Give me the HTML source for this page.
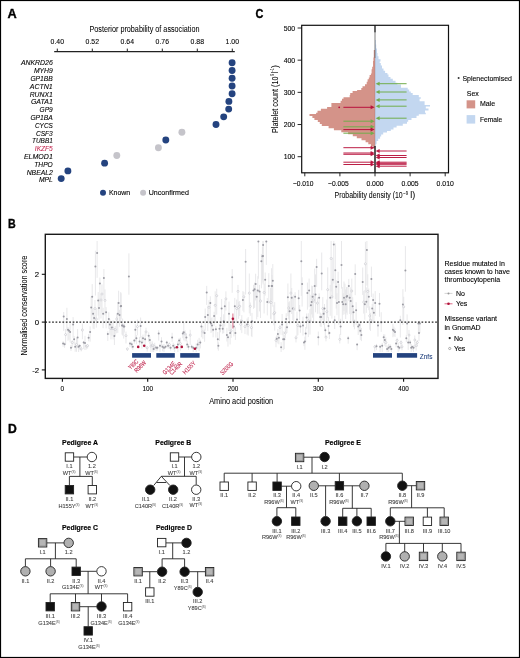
<!DOCTYPE html>
<html><head><meta charset="utf-8"><style>
html,body{margin:0;padding:0;background:#fff;}
body{width:520px;height:658px;overflow:hidden;}
svg{display:block;font-family:"Liberation Sans", sans-serif;will-change:transform;}
</style></head><body>
<svg width="520" height="658" viewBox="0 0 520 658">
<rect x="0" y="0" width="520" height="658" fill="#fff"/>
<text x="7.60" y="18.10" font-size="12.4" font-weight="bold" fill="#000" textLength="9.2" lengthAdjust="spacingAndGlyphs" stroke="#000" stroke-width="0.35">A</text>
<text x="255.40" y="18.20" font-size="12.4" font-weight="bold" fill="#000" textLength="7.9" lengthAdjust="spacingAndGlyphs" stroke="#000" stroke-width="0.35">C</text>
<text x="7.90" y="228.00" font-size="12.4" font-weight="bold" fill="#000" textLength="7.7" lengthAdjust="spacingAndGlyphs" stroke="#000" stroke-width="0.35">B</text>
<text x="7.90" y="433.10" font-size="12.4" font-weight="bold" fill="#000" textLength="8.8" lengthAdjust="spacingAndGlyphs" stroke="#000" stroke-width="0.35">D</text>
<text x="89.50" y="32.30" font-size="8.4" stroke="#000" stroke-width="0.04" textLength="110.0" lengthAdjust="spacingAndGlyphs">Posterior probability of association</text>
<text x="57.30" y="44.00" font-size="8.0" text-anchor="middle" stroke="#000" stroke-width="0.1" textLength="13.4" lengthAdjust="spacingAndGlyphs">0.40</text>
<line x1="57.30" y1="48.60" x2="57.30" y2="51.70" stroke="#222" stroke-width="1.0"/>
<text x="92.30" y="44.00" font-size="8.0" text-anchor="middle" stroke="#000" stroke-width="0.1" textLength="13.4" lengthAdjust="spacingAndGlyphs">0.52</text>
<line x1="92.30" y1="48.60" x2="92.30" y2="51.70" stroke="#222" stroke-width="1.0"/>
<text x="127.30" y="44.00" font-size="8.0" text-anchor="middle" stroke="#000" stroke-width="0.1" textLength="13.4" lengthAdjust="spacingAndGlyphs">0.64</text>
<line x1="127.30" y1="48.60" x2="127.30" y2="51.70" stroke="#222" stroke-width="1.0"/>
<text x="162.30" y="44.00" font-size="8.0" text-anchor="middle" stroke="#000" stroke-width="0.1" textLength="13.4" lengthAdjust="spacingAndGlyphs">0.76</text>
<line x1="162.30" y1="48.60" x2="162.30" y2="51.70" stroke="#222" stroke-width="1.0"/>
<text x="197.30" y="44.00" font-size="8.0" text-anchor="middle" stroke="#000" stroke-width="0.1" textLength="13.4" lengthAdjust="spacingAndGlyphs">0.88</text>
<line x1="197.30" y1="48.60" x2="197.30" y2="51.70" stroke="#222" stroke-width="1.0"/>
<text x="232.30" y="44.00" font-size="8.0" text-anchor="middle" stroke="#000" stroke-width="0.1" textLength="13.4" lengthAdjust="spacingAndGlyphs">1.00</text>
<line x1="232.30" y1="48.60" x2="232.30" y2="51.70" stroke="#222" stroke-width="1.0"/>
<line x1="54.20" y1="51.70" x2="234.80" y2="51.70" stroke="#222" stroke-width="1.2"/>
<text x="52.80" y="65.40" font-size="7.6" text-anchor="end" font-style="italic" stroke="#000" stroke-width="0.1" textLength="31.9" lengthAdjust="spacingAndGlyphs">ANKRD26</text>
<circle cx="232.1" cy="62.80" r="3.45" fill="#24437f"/>
<text x="52.80" y="73.20" font-size="7.6" text-anchor="end" font-style="italic" stroke="#000" stroke-width="0.1" textLength="18.9" lengthAdjust="spacingAndGlyphs">MYH9</text>
<circle cx="232.1" cy="70.52" r="3.45" fill="#24437f"/>
<text x="52.80" y="81.00" font-size="7.6" text-anchor="end" font-style="italic" stroke="#000" stroke-width="0.1" textLength="22.4" lengthAdjust="spacingAndGlyphs">GP1BB</text>
<circle cx="232.1" cy="78.24" r="3.45" fill="#24437f"/>
<text x="52.80" y="88.80" font-size="7.6" text-anchor="end" font-style="italic" stroke="#000" stroke-width="0.1" textLength="23.1" lengthAdjust="spacingAndGlyphs">ACTN1</text>
<circle cx="232.1" cy="85.96" r="3.45" fill="#24437f"/>
<text x="52.80" y="96.60" font-size="7.6" text-anchor="end" font-style="italic" stroke="#000" stroke-width="0.1" textLength="23.1" lengthAdjust="spacingAndGlyphs">RUNX1</text>
<circle cx="232.1" cy="93.68" r="3.45" fill="#24437f"/>
<text x="52.80" y="104.40" font-size="7.6" text-anchor="end" font-style="italic" stroke="#000" stroke-width="0.1" textLength="21.9" lengthAdjust="spacingAndGlyphs">GATA1</text>
<circle cx="228.9" cy="101.40" r="3.45" fill="#24437f"/>
<text x="52.80" y="112.20" font-size="7.6" text-anchor="end" font-style="italic" stroke="#000" stroke-width="0.1" textLength="13.2" lengthAdjust="spacingAndGlyphs">GP9</text>
<circle cx="228.7" cy="109.12" r="3.45" fill="#24437f"/>
<text x="52.80" y="120.00" font-size="7.6" text-anchor="end" font-style="italic" stroke="#000" stroke-width="0.1" textLength="22.4" lengthAdjust="spacingAndGlyphs">GP1BA</text>
<circle cx="223.7" cy="116.84" r="3.45" fill="#24437f"/>
<text x="52.80" y="127.80" font-size="7.6" text-anchor="end" font-style="italic" stroke="#000" stroke-width="0.1" textLength="17.8" lengthAdjust="spacingAndGlyphs">CYCS</text>
<circle cx="216.0" cy="124.56" r="3.45" fill="#24437f"/>
<text x="52.80" y="135.60" font-size="7.6" text-anchor="end" font-style="italic" stroke="#000" stroke-width="0.1" textLength="16.9" lengthAdjust="spacingAndGlyphs">CSF3</text>
<circle cx="181.9" cy="132.28" r="3.45" fill="#c5c4ca"/>
<text x="52.80" y="143.40" font-size="7.6" text-anchor="end" font-style="italic" stroke="#000" stroke-width="0.1" textLength="20.8" lengthAdjust="spacingAndGlyphs">TUBB1</text>
<circle cx="165.8" cy="140.00" r="3.45" fill="#24437f"/>
<text x="52.80" y="151.20" font-size="7.6" text-anchor="end" font-style="italic" fill="#c42a52" stroke="#c42a52" stroke-width="0.1" textLength="18.0" lengthAdjust="spacingAndGlyphs">IKZF5</text>
<circle cx="158.4" cy="147.72" r="3.45" fill="#c5c4ca"/>
<text x="52.80" y="159.00" font-size="7.6" text-anchor="end" font-style="italic" stroke="#000" stroke-width="0.1" textLength="28.9" lengthAdjust="spacingAndGlyphs">ELMOD1</text>
<circle cx="116.8" cy="155.44" r="3.45" fill="#c5c4ca"/>
<text x="52.80" y="166.80" font-size="7.6" text-anchor="end" font-style="italic" stroke="#000" stroke-width="0.1" textLength="18.5" lengthAdjust="spacingAndGlyphs">THPO</text>
<circle cx="104.6" cy="163.16" r="3.45" fill="#24437f"/>
<text x="52.80" y="174.60" font-size="7.6" text-anchor="end" font-style="italic" stroke="#000" stroke-width="0.1" textLength="26.1" lengthAdjust="spacingAndGlyphs">NBEAL2</text>
<circle cx="67.9" cy="170.88" r="3.45" fill="#24437f"/>
<text x="52.80" y="182.40" font-size="7.6" text-anchor="end" font-style="italic" stroke="#000" stroke-width="0.1" textLength="13.9" lengthAdjust="spacingAndGlyphs">MPL</text>
<circle cx="61.2" cy="178.60" r="3.45" fill="#24437f"/>
<circle cx="103" cy="192.8" r="3.0" fill="#24437f"/>
<text x="108.90" y="195.30" font-size="7.0" stroke="#000" stroke-width="0.1" textLength="21.3" lengthAdjust="spacingAndGlyphs">Known</text>
<circle cx="143.1" cy="192.8" r="3.0" fill="#c5c4ca"/>
<text x="148.70" y="195.30" font-size="7.0" stroke="#000" stroke-width="0.1" textLength="40.2" lengthAdjust="spacingAndGlyphs">Unconfirmed</text>
<path d="M375.0,50 V50 H373.8 V57.5 V57.5 H373.4 V60.9 V60.9 H373.0 V66.7 V66.7 H372.2 V69.2 V69.2 H371.6 V73.4 V73.4 H370.9 V75.1 V75.1 H369.6 V77.6 V77.6 H368.8 V79.2 V79.2 H367.6 V81.8 V81.8 H366.7 V84.3 V84.3 H365 V86.3 V86.3 H362.5 V88 V88 H361.3 V90.1 V90.1 H357.1 V91.1 V91.1 H352.6 V93 V93 H350.2 V94.9 V94.9 H349.7 V97.3 V97.3 H343.5 V98.75 V98.75 H342 V100.7 V100.7 H340.6 V103.1 V103.1 H331.4 V106.9 V106.9 H327.1 V108.8 V108.8 H320.9 V110.8 V110.8 H317.5 V112.7 V112.7 H316.1 V114.1 V114.1 H309.5 V116.1 V116.1 H312.4 V118 V118 H314.4 V120.1 V120.1 H317.8 V122.1 V122.1 H319.8 V124.1 V124.1 H321.8 V126.1 V126.1 H328.6 V128.2 V128.2 H333.9 V130.2 V130.2 H341.3 V132.2 V132.2 H348.1 V134.2 V134.2 H352.8 V136.2 V136.2 H356.8 V138.2 V138.2 H361.5 V140.3 V140.3 H365.6 V142.3 V142.3 H368.3 V144.3 V144.3 H371 V146.3 V146.3 H373 V148.3 H375.0 Z" fill="#d49389"/>
<path d="M375.0,40 V40 H375.7 V44.6 V44.6 H376.2 V48.5 V48.5 H377 V53.1 V53.1 H377.5 V56.2 V56.2 H378.5 V59.2 V59.2 H380.5 V61.5 V61.5 H379.7 V63.1 V63.1 H380.8 V65.4 V65.4 H382 V68.5 V68.5 H383.5 V70.8 V70.8 H385.1 V73.1 V73.1 H387.4 V74.6 V74.6 H388.5 V76.9 V76.9 H390.5 V78.8 V78.8 H392.8 V80.8 V80.8 H395.5 V82.7 V82.7 H397.4 V84.6 V84.6 H401.0 V87.7 V87.7 H407.7 V89.6 V89.6 H409.2 V91.5 V91.5 H410.8 V93.1 V93.1 H412.7 V95 V95 H418.8 V97.3 V97.3 H420.8 V98.8 V98.8 H419.6 V101.2 V101.2 H424.6 V105 V105 H430 V106.5 V106.5 H425.8 V108.5 V108.5 H428.5 V110.4 V110.4 H425 V112.7 V112.7 H425.8 V114.2 V114.2 H418.8 V115.8 V115.8 H416.5 V118.1 V118.1 H411.5 V119.9 V119.9 H408.2 V121.8 V121.8 H407 V123.8 V123.8 H402.8 V125.7 V125.7 H396.6 V127.6 V127.6 H393.5 V129.5 V129.5 H390.8 V131.1 V131.1 H387 V132.6 V132.6 H383.2 V134.5 V134.5 H381.2 V136.5 V136.5 H380.1 V138.8 V138.8 H378.2 V141.1 V141.1 H376.6 V144.2 V144.2 H375.7 V147.2 H375.0 Z" fill="#c3d7f0"/>
<line x1="375.00" y1="25.30" x2="375.00" y2="32.60" stroke="#111" stroke-width="1.3"/>
<line x1="375.00" y1="32.60" x2="375.00" y2="58.00" stroke="#555" stroke-width="1.0" opacity="0.75"/>
<line x1="375.00" y1="58.00" x2="375.00" y2="146.00" stroke="#8a6a6a" stroke-width="0.6" opacity="0.5"/>
<line x1="375.00" y1="146.00" x2="375.00" y2="172.80" stroke="#111" stroke-width="1.4"/>
<rect x="301.7" y="25.3" width="146.8" height="147.5" fill="none" stroke="#111" stroke-width="1.2"/>
<line x1="297.60" y1="156.70" x2="301.70" y2="156.70" stroke="#111" stroke-width="0.9"/>
<text x="295.20" y="159.30" font-size="7.4" text-anchor="end" stroke="#000" stroke-width="0.1" textLength="11.5" lengthAdjust="spacingAndGlyphs">100</text>
<line x1="297.60" y1="124.52" x2="301.70" y2="124.52" stroke="#111" stroke-width="0.9"/>
<text x="295.20" y="127.12" font-size="7.4" text-anchor="end" stroke="#000" stroke-width="0.1" textLength="11.5" lengthAdjust="spacingAndGlyphs">200</text>
<line x1="297.60" y1="92.35" x2="301.70" y2="92.35" stroke="#111" stroke-width="0.9"/>
<text x="295.20" y="94.95" font-size="7.4" text-anchor="end" stroke="#000" stroke-width="0.1" textLength="11.5" lengthAdjust="spacingAndGlyphs">300</text>
<line x1="297.60" y1="60.17" x2="301.70" y2="60.17" stroke="#111" stroke-width="0.9"/>
<text x="295.20" y="62.77" font-size="7.4" text-anchor="end" stroke="#000" stroke-width="0.1" textLength="11.5" lengthAdjust="spacingAndGlyphs">400</text>
<line x1="297.60" y1="28.00" x2="301.70" y2="28.00" stroke="#111" stroke-width="0.9"/>
<text x="295.20" y="30.60" font-size="7.4" text-anchor="end" stroke="#000" stroke-width="0.1" textLength="11.5" lengthAdjust="spacingAndGlyphs">500</text>
<line x1="304.80" y1="172.80" x2="304.80" y2="176.30" stroke="#111" stroke-width="0.9"/>
<text x="303.20" y="185.60" font-size="7.3" text-anchor="middle" stroke="#000" stroke-width="0.1" textLength="20.6" lengthAdjust="spacingAndGlyphs">−0.010</text>
<line x1="339.90" y1="172.80" x2="339.90" y2="176.30" stroke="#111" stroke-width="0.9"/>
<text x="338.30" y="185.60" font-size="7.3" text-anchor="middle" stroke="#000" stroke-width="0.1" textLength="20.6" lengthAdjust="spacingAndGlyphs">−0.005</text>
<line x1="375.00" y1="172.80" x2="375.00" y2="176.30" stroke="#111" stroke-width="0.9"/>
<text x="375.00" y="185.60" font-size="7.3" text-anchor="middle" stroke="#000" stroke-width="0.1" textLength="17.2" lengthAdjust="spacingAndGlyphs">0.000</text>
<line x1="410.10" y1="172.80" x2="410.10" y2="176.30" stroke="#111" stroke-width="0.9"/>
<text x="410.10" y="185.60" font-size="7.3" text-anchor="middle" stroke="#000" stroke-width="0.1" textLength="17.2" lengthAdjust="spacingAndGlyphs">0.005</text>
<line x1="445.20" y1="172.80" x2="445.20" y2="176.30" stroke="#111" stroke-width="0.9"/>
<text x="445.20" y="185.60" font-size="7.3" text-anchor="middle" stroke="#000" stroke-width="0.1" textLength="17.2" lengthAdjust="spacingAndGlyphs">0.010</text>
<text x="334.60" y="198.00" font-size="8.7" stroke="#000" stroke-width="0.04" textLength="68.1" lengthAdjust="spacingAndGlyphs">Probability density (10</text>
<text x="403.20" y="194.60" font-size="4.6" stroke="#000" stroke-width="0.04" textLength="4.8" lengthAdjust="spacingAndGlyphs">−9</text>
<text x="410.20" y="198.00" font-size="8.7" stroke="#000" stroke-width="0.04" textLength="5.0" lengthAdjust="spacingAndGlyphs">l)</text>
<text x="0.00" y="0.00" font-size="8.4" stroke="#000" stroke-width="0.04" textLength="56.6" lengthAdjust="spacingAndGlyphs" transform="translate(277.6,133.0) rotate(-90)">Platelet count (10</text>
<text x="57.20" y="-3.40" font-size="4.6" stroke="#000" stroke-width="0.04" textLength="2.0" lengthAdjust="spacingAndGlyphs" transform="translate(277.6,133.0) rotate(-90)">9</text>
<text x="59.50" y="0.00" font-size="8.4" stroke="#000" stroke-width="0.04" textLength="1.6" lengthAdjust="spacingAndGlyphs" transform="translate(277.6,133.0) rotate(-90)">l</text>
<text x="61.30" y="-3.40" font-size="4.6" stroke="#000" stroke-width="0.04" textLength="3.5" lengthAdjust="spacingAndGlyphs" transform="translate(277.6,133.0) rotate(-90)">−1</text>
<text x="65.00" y="0.00" font-size="8.4" stroke="#000" stroke-width="0.04" textLength="3.0" lengthAdjust="spacingAndGlyphs" transform="translate(277.6,133.0) rotate(-90)">)</text>
<line x1="406.60" y1="83.70" x2="378.60" y2="83.70" stroke="#72ad4c" stroke-width="1.0" opacity="1.0"/>
<path d="M375.6,83.7 L379.6,81.7 L379.6,85.7 Z" fill="#72ad4c" opacity="1.0"/>
<line x1="406.60" y1="92.00" x2="378.60" y2="92.00" stroke="#72ad4c" stroke-width="1.0" opacity="1.0"/>
<path d="M375.6,92.0 L379.6,90.0 L379.6,94.0 Z" fill="#72ad4c" opacity="1.0"/>
<line x1="406.60" y1="99.90" x2="378.60" y2="99.90" stroke="#72ad4c" stroke-width="1.0" opacity="1.0"/>
<path d="M375.6,99.9 L379.6,97.9 L379.6,101.9 Z" fill="#72ad4c" opacity="1.0"/>
<line x1="406.60" y1="106.20" x2="378.60" y2="106.20" stroke="#72ad4c" stroke-width="1.0" opacity="1.0"/>
<path d="M375.6,106.2 L379.6,104.2 L379.6,108.2 Z" fill="#72ad4c" opacity="1.0"/>
<line x1="406.60" y1="118.20" x2="378.60" y2="118.20" stroke="#72ad4c" stroke-width="1.0" opacity="1.0"/>
<path d="M375.6,118.2 L379.6,116.2 L379.6,120.2 Z" fill="#72ad4c" opacity="1.0"/>
<line x1="343.40" y1="121.20" x2="371.60" y2="121.20" stroke="#72ad4c" stroke-width="1.0" opacity="1.0"/>
<path d="M374.6,121.2 L370.6,119.2 L370.6,123.2 Z" fill="#72ad4c" opacity="1.0"/>
<line x1="343.40" y1="126.80" x2="371.60" y2="126.80" stroke="#72ad4c" stroke-width="1.0" opacity="1.0"/>
<path d="M374.6,126.8 L370.6,124.8 L370.6,128.8 Z" fill="#72ad4c" opacity="1.0"/>
<line x1="343.40" y1="133.20" x2="371.60" y2="133.20" stroke="#72ad4c" stroke-width="1.0" opacity="1.0"/>
<path d="M374.6,133.2 L370.6,131.2 L370.6,135.2 Z" fill="#72ad4c" opacity="1.0"/>
<line x1="343.40" y1="107.30" x2="371.60" y2="107.30" stroke="#b8123c" stroke-width="1.0" opacity="1.0"/>
<path d="M374.6,107.3 L370.6,105.3 L370.6,109.3 Z" fill="#b8123c" opacity="1.0"/>
<circle cx="339.2" cy="107.3" r="0.9" fill="#b8123c"/>
<line x1="343.40" y1="129.60" x2="371.60" y2="129.60" stroke="#b8123c" stroke-width="1.0" opacity="1.0"/>
<path d="M374.6,129.6 L370.6,127.6 L370.6,131.6 Z" fill="#b8123c" opacity="1.0"/>
<line x1="343.40" y1="147.70" x2="371.60" y2="147.70" stroke="#b8123c" stroke-width="1.0" opacity="0.95"/>
<path d="M374.6,147.7 L370.6,145.7 L370.6,149.7 Z" fill="#b8123c" opacity="0.95"/>
<line x1="343.40" y1="153.00" x2="371.60" y2="153.00" stroke="#b8123c" stroke-width="1.0" opacity="0.95"/>
<path d="M374.6,153.0 L370.6,151.0 L370.6,155.0 Z" fill="#b8123c" opacity="0.95"/>
<line x1="343.40" y1="154.30" x2="371.60" y2="154.30" stroke="#b8123c" stroke-width="1.0" opacity="0.95"/>
<path d="M374.6,154.3 L370.6,152.3 L370.6,156.3 Z" fill="#b8123c" opacity="0.95"/>
<line x1="343.40" y1="162.20" x2="371.60" y2="162.20" stroke="#b8123c" stroke-width="1.0" opacity="0.95"/>
<path d="M374.6,162.2 L370.6,160.2 L370.6,164.2 Z" fill="#b8123c" opacity="0.95"/>
<line x1="343.40" y1="164.50" x2="371.60" y2="164.50" stroke="#b8123c" stroke-width="1.0" opacity="0.95"/>
<path d="M374.6,164.5 L370.6,162.5 L370.6,166.5 Z" fill="#b8123c" opacity="0.95"/>
<line x1="406.60" y1="151.00" x2="378.60" y2="151.00" stroke="#b8123c" stroke-width="1.0" opacity="0.95"/>
<path d="M375.6,151.0 L379.6,149.0 L379.6,153.0 Z" fill="#b8123c" opacity="0.95"/>
<line x1="406.60" y1="155.50" x2="378.60" y2="155.50" stroke="#b8123c" stroke-width="1.0" opacity="0.95"/>
<path d="M375.6,155.5 L379.6,153.5 L379.6,157.5 Z" fill="#b8123c" opacity="0.95"/>
<line x1="406.60" y1="157.50" x2="378.60" y2="157.50" stroke="#b8123c" stroke-width="1.0" opacity="0.95"/>
<path d="M375.6,157.5 L379.6,155.5 L379.6,159.5 Z" fill="#b8123c" opacity="0.95"/>
<line x1="406.60" y1="162.20" x2="378.60" y2="162.20" stroke="#b8123c" stroke-width="1.0" opacity="0.95"/>
<path d="M375.6,162.2 L379.6,160.2 L379.6,164.2 Z" fill="#b8123c" opacity="0.95"/>
<line x1="406.60" y1="163.30" x2="378.60" y2="163.30" stroke="#b8123c" stroke-width="1.0" opacity="0.95"/>
<path d="M375.6,163.3 L379.6,161.3 L379.6,165.3 Z" fill="#b8123c" opacity="0.95"/>
<line x1="406.60" y1="164.30" x2="378.60" y2="164.30" stroke="#b8123c" stroke-width="1.0" opacity="0.95"/>
<path d="M375.6,164.3 L379.6,162.3 L379.6,166.3 Z" fill="#b8123c" opacity="0.95"/>
<line x1="406.60" y1="166.20" x2="378.60" y2="166.20" stroke="#b8123c" stroke-width="1.0" opacity="0.95"/>
<path d="M375.6,166.2 L379.6,164.2 L379.6,168.2 Z" fill="#b8123c" opacity="0.95"/>
<circle cx="458.6" cy="78.0" r="1.0" fill="#333"/>
<text x="462.40" y="80.80" font-size="7.0" stroke="#000" stroke-width="0.1" textLength="49.5" lengthAdjust="spacingAndGlyphs">Splenectomised</text>
<text x="466.80" y="95.80" font-size="7.0" stroke="#000" stroke-width="0.1">Sex</text>
<rect x="466.6" y="100.3" width="8.6" height="8.1" fill="#d49389"/>
<text x="479.90" y="106.30" font-size="7.0" stroke="#000" stroke-width="0.1">Male</text>
<rect x="466.6" y="115.1" width="8.6" height="8.5" fill="#c3d7f0"/>
<text x="479.90" y="121.50" font-size="7.0" stroke="#000" stroke-width="0.1" textLength="22.3" lengthAdjust="spacingAndGlyphs">Female</text>
<path d="M63.1,341.2V346.8 M64.6,342.6V347.8 M63.7,312.0V330.9 M65.6,329.0V344.4 M66.9,307.8V331.3 M68.0,327.0V340.7 M69.0,328.9V339.7 M70.1,323.3V342.3 M71.0,345.0V350.9 M72.2,340.2V347.9 M73.1,317.1V337.8 M74.1,336.0V344.7 M75.2,342.5V351.8 M76.5,337.9V351.8 M77.6,329.1V348.2 M78.6,344.7V352.0 M79.7,344.8V349.6 M81.2,346.6V351.4 M82.4,323.7V339.2 M83.7,340.9V349.1 M85.0,335.8V350.0 M86.3,345.1V349.5 M87.6,344.2V348.6 M88.6,334.1V341.3 M90.1,326.4V341.7 M91.2,296.5V323.2 M92.2,284.1V315.4 M93.1,308.3V328.7 M94.1,315.1V329.2 M95.0,300.0V321.1 M95.4,250.7V295.5 M96.3,308.7V327.6 M97.1,241.0V277.8 M98.2,292.1V315.6 M99.0,298.2V319.8 M99.9,277.6V306.6 M101.0,293.6V318.5 M102.0,284.4V312.4 M103.1,307.8V328.2 M103.9,269.0V299.4 M105.0,289.4V315.3 M106.1,307.1V328.3 M107.8,331.3V340.9 M108.8,312.3V328.8 M109.9,319.2V334.7 M111.0,323.9V339.4 M112.0,321.1V335.7 M113.1,320.2V339.5 M114.4,328.5V345.0 M115.2,325.9V335.8 M116.7,313.4V333.3 M117.8,301.9V332.8 M118.6,290.7V315.0 M119.5,309.8V326.8 M120.7,292.1V321.6 M121.1,293.3V319.2 M122.0,322.0V334.6 M122.6,318.6V335.6 M123.7,323.9V338.6 M124.3,323.4V332.5 M126.0,331.6V343.4 M127.4,348.0V350.9 M128.9,253.3V294.7 M130.0,341.7V347.1 M131.7,341.5V348.3 M132.8,345.0V349.8 M134.3,339.1V343.6 M135.3,324.2V341.7 M136.4,335.1V344.2 M137.4,319.5V335.3 M139.6,336.9V345.4 M140.6,317.5V337.8 M141.9,336.1V348.6 M143.0,334.5V343.0 M145.1,333.4V348.0 M146.0,327.7V335.8 M147.2,346.4V351.6 M148.7,332.3V341.8 M149.8,336.5V344.3 M150.9,341.5V352.0 M152.3,341.3V351.8 M153.6,343.9V352.0 M154.7,342.8V350.4 M156.2,345.9V350.9 M157.4,346.1V350.6 M158.7,330.2V340.6 M160.0,343.6V352.0 M161.5,337.2V347.7 M162.6,344.6V351.3 M164.0,343.9V352.0 M165.5,345.6V348.9 M166.8,340.7V347.2 M168.1,343.1V348.7 M169.4,342.3V348.7 M170.6,345.8V350.6 M172.1,332.8V341.8 M173.2,342.7V349.8 M174.7,344.1V352.0 M177.9,341.0V352.0 M179.1,338.1V345.0 M180.4,337.7V350.7 M182.8,331.0V338.2 M183.8,322.9V340.4 M185.1,330.3V341.4 M186.4,333.7V341.3 M187.2,340.7V348.0 M188.5,344.5V349.8 M190.2,329.8V344.9 M191.7,344.6V348.9 M193.2,345.9V352.0 M196.2,343.4V352.0 M197.7,339.8V349.2 M199.1,337.9V351.1 M200.3,339.8V348.4 M201.4,322.9V337.2 M202.9,325.9V338.8 M204.6,329.5V341.8 M205.2,308.5V330.6 M206.7,285.9V304.9 M207.8,305.6V330.9 M209.0,300.2V323.8 M210.3,296.3V321.4 M211.0,318.1V333.0 M212.0,317.3V332.1 M213.1,327.6V337.3 M214.1,311.8V325.8 M215.2,291.3V322.9 M215.9,326.1V337.5 M216.7,288.7V314.6 M217.8,332.0V349.2 M218.4,342.4V350.7 M219.5,324.0V340.8 M220.5,317.1V332.3 M221.6,299.0V323.7 M222.7,323.9V333.7 M223.7,314.3V333.2 M224.8,300.5V326.3 M225.9,291.3V310.6 M226.9,327.9V341.5 M228.0,334.6V346.6 M229.0,301.6V331.1 M230.1,323.8V344.5 M231.2,324.8V337.9 M232.2,269.1V292.8 M233.9,319.6V336.4 M234.8,297.9V322.3 M235.4,327.2V339.9 M236.7,299.5V322.8 M238.0,284.9V310.4 M238.6,301.8V318.8 M239.7,301.0V316.0 M240.7,319.2V330.2 M241.8,315.2V333.1 M242.9,291.1V310.8 M243.9,291.9V312.3 M245.0,321.4V334.1 M245.6,249.0V294.6 M247.1,318.5V334.6 M248.2,317.1V335.6 M249.3,273.5V313.4 M250.3,302.5V315.8 M251.4,322.4V336.1 M252.0,312.9V337.1 M253.5,284.8V308.8 M254.6,282.6V307.9 M255.6,273.7V300.5 M256.7,289.4V319.4 M257.8,276.2V316.9 M258.4,241.0V278.7 M259.5,284.9V311.4 M260.5,291.5V318.0 M261.4,254.1V288.3 M262.4,247.2V280.1 M263.1,241.0V284.4 M263.0,241.0V282.6 M264.1,283.5V313.5 M265.2,272.5V295.6 M266.3,241.0V264.9 M267.3,298.1V315.4 M268.8,273.2V303.7 M270.5,287.8V318.8 M271.1,298.3V319.5 M271.6,268.2V300.1 M272.1,275.1V300.6 M272.8,264.1V306.7 M273.8,305.2V325.3 M274.7,302.1V330.6 M276.0,336.8V347.2 M276.8,335.3V342.5 M277.9,329.0V343.5 M278.9,335.2V344.3 M280.0,324.9V334.7 M281.1,342.1V352.0 M282.1,314.0V335.2 M283.2,331.2V350.1 M284.3,335.1V349.2 M285.3,326.5V338.2 M286.2,313.2V331.7 M287.0,321.5V333.0 M287.9,283.5V316.2 M288.7,302.2V319.4 M289.6,301.3V324.3 M290.9,273.5V312.0 M291.7,288.0V314.0 M292.8,296.1V320.0 M293.8,294.6V322.8 M295.1,292.2V311.0 M296.0,335.4V342.4 M297.0,311.7V336.2 M297.9,322.3V335.1 M298.7,289.9V309.8 M299.6,305.0V320.1 M300.4,322.6V332.8 M301.3,241.0V295.9 M302.1,277.3V306.6 M303.0,316.7V335.5 M304.0,341.6V346.2 M304.9,336.7V349.8 M305.7,327.0V342.2 M306.6,313.5V328.7 M307.4,282.6V309.7 M308.3,313.3V337.1 M309.1,278.6V307.3 M310.0,308.8V334.6 M310.9,294.8V320.5 M311.7,285.6V314.5 M312.6,286.0V317.7 M313.6,293.2V321.9 M314.7,268.5V303.1 M315.5,274.4V312.3 M316.6,258.8V286.9 M317.4,297.4V313.8 M318.3,331.6V345.4 M319.1,293.3V313.7 M320.2,312.6V326.5 M321.1,313.7V327.0 M321.7,252.5V290.3 M322.8,297.1V319.9 M323.6,308.4V325.0 M324.5,304.0V329.5 M325.3,327.7V337.4 M326.0,335.3V341.3 M326.8,299.5V320.7 M327.7,267.4V317.9 M328.5,317.1V334.6 M329.4,331.3V339.0 M330.2,284.9V315.8 M331.1,241.0V291.5 M331.9,279.2V318.6 M332.8,257.5V298.5 M333.8,241.0V283.4 M334.7,315.9V329.0 M335.3,243.4V299.1 M336.2,280.2V308.6 M337.0,293.2V315.2 M338.1,271.8V300.4 M338.9,283.9V324.8 M339.8,334.3V343.4 M340.6,318.8V335.0 M341.5,241.0V288.6 M342.3,287.0V323.2 M343.2,293.2V314.8 M344.0,281.5V311.0 M344.9,283.7V314.3 M345.7,289.4V319.0 M346.6,287.1V312.7 M347.1,287.0V314.7 M348.2,335.9V343.7 M348.8,278.9V301.0 M349.7,293.7V314.0 M350.7,287.4V320.8 M351.8,278.6V314.4 M352.7,297.2V322.7 M353.5,307.6V326.9 M354.4,319.5V329.3 M355.2,264.3V295.2 M356.1,302.1V325.1 M357.1,343.3V350.2 M358.2,322.3V335.0 M359.3,323.3V332.5 M360.3,321.5V339.9 M361.4,327.9V341.1 M362.7,267.5V294.9 M363.7,290.9V313.6 M364.8,290.1V319.7 M365.4,241.8V292.8 M366.3,287.4V312.9 M366.9,241.0V285.6 M367.8,274.3V307.8 M368.8,288.5V310.2 M369.7,306.3V329.7 M370.5,312.8V330.9 M371.4,266.6V297.0 M372.2,304.0V323.3 M373.1,293.5V312.3 M373.9,308.7V322.6 M374.8,344.9V351.7 M375.2,291.1V316.0 M376.5,343.9V350.1 M378.0,322.9V336.6 M379.5,293.0V316.7 M380.1,344.7V352.0 M381.2,312.2V331.9 M382.2,342.9V352.0 M383.7,334.2V342.7 M384.8,334.4V345.8 M385.9,337.4V347.0 M387.1,345.4V352.0 M388.6,343.9V352.0 M390.1,344.3V350.4 M391.4,346.3V352.0 M392.9,323.9V337.2 M393.9,326.6V336.2 M395.0,328.4V336.9 M396.1,341.9V347.3 M397.1,337.7V343.6 M398.2,342.6V352.0 M399.3,346.9V350.5 M400.3,315.8V337.5 M401.0,340.3V348.8 M402.0,343.9V350.3 M402.9,289.1V325.0 M403.7,296.7V321.3 M405.4,246.1V291.7 M406.3,334.8V342.1 M407.1,314.4V334.5 M408.2,338.9V349.9 M409.0,329.9V341.9 M410.1,339.9V345.3 M411.2,344.0V352.0 M412.2,345.9V350.3 M413.5,345.4V352.0 M414.8,335.5V348.2 M416.1,342.2V350.6 M417.3,340.1V346.6 M418.4,321.1V332.4 M419.0,325.3V341.0 M419.9,320.7V333.0" stroke="#e4e4e6" stroke-width="0.85" fill="none"/>
<circle cx="63.1" cy="343.6" r="1.0" fill="#9c9ca4"/>
<circle cx="64.6" cy="344.2" r="1.0" fill="#9c9ca4"/>
<circle cx="63.7" cy="316.6" r="1.0" fill="#9c9ca4"/>
<circle cx="65.6" cy="334.6" r="1.0" fill="#fff" stroke="#b8b8c0" stroke-width="0.5"/>
<circle cx="66.9" cy="319.1" r="1.0" fill="#9c9ca4"/>
<circle cx="68.0" cy="329.7" r="1.0" fill="#9c9ca4"/>
<circle cx="69.0" cy="330.8" r="1.0" fill="#9c9ca4"/>
<circle cx="70.1" cy="331.9" r="1.0" fill="#9c9ca4"/>
<circle cx="71.0" cy="347.8" r="1.0" fill="#9c9ca4"/>
<circle cx="72.2" cy="342.5" r="1.0" fill="#fff" stroke="#b8b8c0" stroke-width="0.5"/>
<circle cx="73.1" cy="324.4" r="1.0" fill="#9c9ca4"/>
<circle cx="74.1" cy="339.3" r="1.0" fill="#9c9ca4"/>
<circle cx="75.2" cy="346.8" r="1.0" fill="#9c9ca4"/>
<circle cx="76.5" cy="344.6" r="1.0" fill="#fff" stroke="#b8b8c0" stroke-width="0.5"/>
<circle cx="77.6" cy="337.6" r="1.0" fill="#9c9ca4"/>
<circle cx="78.6" cy="346.8" r="1.0" fill="#9c9ca4"/>
<circle cx="79.7" cy="345.7" r="1.0" fill="#9c9ca4"/>
<circle cx="81.2" cy="348.9" r="1.0" fill="#fff" stroke="#b8b8c0" stroke-width="0.5"/>
<circle cx="82.4" cy="330.0" r="1.0" fill="#fff" stroke="#b8b8c0" stroke-width="0.5"/>
<circle cx="83.7" cy="342.5" r="1.0" fill="#9c9ca4"/>
<circle cx="85.0" cy="343.0" r="1.0" fill="#9c9ca4"/>
<circle cx="86.3" cy="346.1" r="1.0" fill="#fff" stroke="#b8b8c0" stroke-width="0.5"/>
<circle cx="87.6" cy="345.7" r="1.0" fill="#fff" stroke="#b8b8c0" stroke-width="0.5"/>
<circle cx="88.6" cy="337.8" r="1.0" fill="#9c9ca4"/>
<circle cx="90.1" cy="331.9" r="1.0" fill="#9c9ca4"/>
<circle cx="91.2" cy="307.4" r="1.0" fill="#9c9ca4"/>
<circle cx="92.2" cy="296.8" r="1.0" fill="#9c9ca4"/>
<circle cx="93.1" cy="313.8" r="1.0" fill="#9c9ca4"/>
<circle cx="94.1" cy="318.0" r="1.0" fill="#9c9ca4"/>
<circle cx="95.0" cy="308.5" r="1.0" fill="#fff" stroke="#b8b8c0" stroke-width="0.5"/>
<circle cx="95.4" cy="266.6" r="1.0" fill="#9c9ca4"/>
<circle cx="96.3" cy="319.1" r="1.0" fill="#fff" stroke="#b8b8c0" stroke-width="0.5"/>
<circle cx="97.1" cy="253.1" r="1.0" fill="#9c9ca4"/>
<circle cx="98.2" cy="300.4" r="1.0" fill="#9c9ca4"/>
<circle cx="99.0" cy="308.0" r="1.0" fill="#9c9ca4"/>
<circle cx="99.9" cy="283.4" r="1.0" fill="#9c9ca4"/>
<circle cx="101.0" cy="300.0" r="1.0" fill="#fff" stroke="#b8b8c0" stroke-width="0.5"/>
<circle cx="102.0" cy="294.0" r="1.0" fill="#fff" stroke="#b8b8c0" stroke-width="0.5"/>
<circle cx="103.1" cy="313.8" r="1.0" fill="#9c9ca4"/>
<circle cx="103.9" cy="278.0" r="1.0" fill="#9c9ca4"/>
<circle cx="105.0" cy="300.4" r="1.0" fill="#fff" stroke="#b8b8c0" stroke-width="0.5"/>
<circle cx="106.1" cy="312.3" r="1.0" fill="#9c9ca4"/>
<circle cx="107.8" cy="334.0" r="1.0" fill="#9c9ca4"/>
<circle cx="108.8" cy="319.0" r="1.0" fill="#9c9ca4"/>
<circle cx="109.9" cy="324.4" r="1.0" fill="#9c9ca4"/>
<circle cx="111.0" cy="328.7" r="1.0" fill="#fff" stroke="#b8b8c0" stroke-width="0.5"/>
<circle cx="112.0" cy="327.6" r="1.0" fill="#9c9ca4"/>
<circle cx="113.1" cy="328.7" r="1.0" fill="#fff" stroke="#b8b8c0" stroke-width="0.5"/>
<circle cx="114.4" cy="336.0" r="1.0" fill="#9c9ca4"/>
<circle cx="115.2" cy="329.7" r="1.0" fill="#fff" stroke="#b8b8c0" stroke-width="0.5"/>
<circle cx="116.7" cy="319.0" r="1.0" fill="#fff" stroke="#b8b8c0" stroke-width="0.5"/>
<circle cx="117.8" cy="313.8" r="1.0" fill="#9c9ca4"/>
<circle cx="118.6" cy="303.1" r="1.0" fill="#9c9ca4"/>
<circle cx="119.5" cy="314.9" r="1.0" fill="#9c9ca4"/>
<circle cx="120.7" cy="306.3" r="1.0" fill="#9c9ca4"/>
<circle cx="121.1" cy="305.9" r="1.0" fill="#9c9ca4"/>
<circle cx="122.0" cy="325.5" r="1.0" fill="#9c9ca4"/>
<circle cx="122.6" cy="325.5" r="1.0" fill="#9c9ca4"/>
<circle cx="123.7" cy="326.6" r="1.0" fill="#9c9ca4"/>
<circle cx="124.3" cy="326.6" r="1.0" fill="#9c9ca4"/>
<circle cx="126.0" cy="335.7" r="1.0" fill="#fff" stroke="#b8b8c0" stroke-width="0.5"/>
<circle cx="127.4" cy="348.9" r="1.0" fill="#fff" stroke="#b8b8c0" stroke-width="0.5"/>
<circle cx="128.9" cy="276.6" r="1.0" fill="#9c9ca4"/>
<circle cx="130.0" cy="343.6" r="1.0" fill="#9c9ca4"/>
<circle cx="131.7" cy="344.2" r="1.0" fill="#9c9ca4"/>
<circle cx="132.8" cy="346.8" r="1.0" fill="#9c9ca4"/>
<circle cx="134.3" cy="340.4" r="1.0" fill="#9c9ca4"/>
<circle cx="135.3" cy="329.7" r="1.0" fill="#9c9ca4"/>
<circle cx="136.4" cy="338.3" r="1.0" fill="#9c9ca4"/>
<circle cx="137.4" cy="326.6" r="1.0" fill="#fff" stroke="#b8b8c0" stroke-width="0.5"/>
<circle cx="139.6" cy="341.4" r="1.0" fill="#9c9ca4"/>
<circle cx="140.6" cy="326.1" r="1.0" fill="#9c9ca4"/>
<circle cx="141.9" cy="342.5" r="1.0" fill="#9c9ca4"/>
<circle cx="143.0" cy="338.3" r="1.0" fill="#9c9ca4"/>
<circle cx="145.1" cy="339.3" r="1.0" fill="#9c9ca4"/>
<circle cx="146.0" cy="331.9" r="1.0" fill="#fff" stroke="#b8b8c0" stroke-width="0.5"/>
<circle cx="147.2" cy="347.8" r="1.0" fill="#fff" stroke="#b8b8c0" stroke-width="0.5"/>
<circle cx="148.7" cy="335.7" r="1.0" fill="#9c9ca4"/>
<circle cx="149.8" cy="340.0" r="1.0" fill="#9c9ca4"/>
<circle cx="150.9" cy="346.1" r="1.0" fill="#fff" stroke="#b8b8c0" stroke-width="0.5"/>
<circle cx="152.3" cy="345.1" r="1.0" fill="#fff" stroke="#b8b8c0" stroke-width="0.5"/>
<circle cx="153.6" cy="348.9" r="1.0" fill="#9c9ca4"/>
<circle cx="154.7" cy="346.8" r="1.0" fill="#fff" stroke="#b8b8c0" stroke-width="0.5"/>
<circle cx="156.2" cy="347.8" r="1.0" fill="#9c9ca4"/>
<circle cx="157.4" cy="347.8" r="1.0" fill="#9c9ca4"/>
<circle cx="158.7" cy="333.6" r="1.0" fill="#9c9ca4"/>
<circle cx="160.0" cy="345.7" r="1.0" fill="#9c9ca4"/>
<circle cx="161.5" cy="341.4" r="1.0" fill="#9c9ca4"/>
<circle cx="162.6" cy="346.8" r="1.0" fill="#9c9ca4"/>
<circle cx="164.0" cy="347.8" r="1.0" fill="#9c9ca4"/>
<circle cx="165.5" cy="346.8" r="1.0" fill="#9c9ca4"/>
<circle cx="166.8" cy="342.5" r="1.0" fill="#9c9ca4"/>
<circle cx="168.1" cy="345.7" r="1.0" fill="#9c9ca4"/>
<circle cx="169.4" cy="344.6" r="1.0" fill="#fff" stroke="#b8b8c0" stroke-width="0.5"/>
<circle cx="170.6" cy="347.8" r="1.0" fill="#9c9ca4"/>
<circle cx="172.1" cy="337.6" r="1.0" fill="#9c9ca4"/>
<circle cx="173.2" cy="345.7" r="1.0" fill="#9c9ca4"/>
<circle cx="174.7" cy="347.8" r="1.0" fill="#9c9ca4"/>
<circle cx="177.9" cy="344.6" r="1.0" fill="#9c9ca4"/>
<circle cx="179.1" cy="340.4" r="1.0" fill="#9c9ca4"/>
<circle cx="180.4" cy="343.6" r="1.0" fill="#fff" stroke="#b8b8c0" stroke-width="0.5"/>
<circle cx="182.8" cy="333.6" r="1.0" fill="#9c9ca4"/>
<circle cx="183.8" cy="332.3" r="1.0" fill="#9c9ca4"/>
<circle cx="185.1" cy="334.0" r="1.0" fill="#fff" stroke="#b8b8c0" stroke-width="0.5"/>
<circle cx="186.4" cy="337.6" r="1.0" fill="#9c9ca4"/>
<circle cx="187.2" cy="344.6" r="1.0" fill="#9c9ca4"/>
<circle cx="188.5" cy="346.8" r="1.0" fill="#9c9ca4"/>
<circle cx="190.2" cy="335.1" r="1.0" fill="#fff" stroke="#b8b8c0" stroke-width="0.5"/>
<circle cx="191.7" cy="346.8" r="1.0" fill="#9c9ca4"/>
<circle cx="193.2" cy="347.8" r="1.0" fill="#9c9ca4"/>
<circle cx="196.2" cy="347.8" r="1.0" fill="#9c9ca4"/>
<circle cx="197.7" cy="344.6" r="1.0" fill="#9c9ca4"/>
<circle cx="199.1" cy="343.6" r="1.0" fill="#fff" stroke="#b8b8c0" stroke-width="0.5"/>
<circle cx="200.3" cy="342.5" r="1.0" fill="#9c9ca4"/>
<circle cx="201.4" cy="326.6" r="1.0" fill="#9c9ca4"/>
<circle cx="202.9" cy="331.9" r="1.0" fill="#fff" stroke="#b8b8c0" stroke-width="0.5"/>
<circle cx="204.6" cy="333.0" r="1.0" fill="#9c9ca4"/>
<circle cx="205.2" cy="317.0" r="1.0" fill="#9c9ca4"/>
<circle cx="206.7" cy="292.5" r="1.0" fill="#9c9ca4"/>
<circle cx="207.8" cy="314.9" r="1.0" fill="#9c9ca4"/>
<circle cx="209.0" cy="307.4" r="1.0" fill="#fff" stroke="#b8b8c0" stroke-width="0.5"/>
<circle cx="210.3" cy="303.1" r="1.0" fill="#9c9ca4"/>
<circle cx="211.0" cy="323.4" r="1.0" fill="#9c9ca4"/>
<circle cx="212.0" cy="325.5" r="1.0" fill="#9c9ca4"/>
<circle cx="213.1" cy="329.7" r="1.0" fill="#9c9ca4"/>
<circle cx="214.1" cy="315.9" r="1.0" fill="#9c9ca4"/>
<circle cx="215.2" cy="305.3" r="1.0" fill="#fff" stroke="#b8b8c0" stroke-width="0.5"/>
<circle cx="215.9" cy="329.3" r="1.0" fill="#9c9ca4"/>
<circle cx="216.7" cy="295.7" r="1.0" fill="#fff" stroke="#b8b8c0" stroke-width="0.5"/>
<circle cx="217.8" cy="339.3" r="1.0" fill="#9c9ca4"/>
<circle cx="218.4" cy="345.7" r="1.0" fill="#9c9ca4"/>
<circle cx="219.5" cy="328.7" r="1.0" fill="#9c9ca4"/>
<circle cx="220.5" cy="325.5" r="1.0" fill="#9c9ca4"/>
<circle cx="221.6" cy="308.5" r="1.0" fill="#9c9ca4"/>
<circle cx="222.7" cy="328.7" r="1.0" fill="#9c9ca4"/>
<circle cx="223.7" cy="321.2" r="1.0" fill="#9c9ca4"/>
<circle cx="224.8" cy="306.3" r="1.0" fill="#9c9ca4"/>
<circle cx="225.9" cy="298.9" r="1.0" fill="#fff" stroke="#b8b8c0" stroke-width="0.5"/>
<circle cx="226.9" cy="335.1" r="1.0" fill="#9c9ca4"/>
<circle cx="228.0" cy="337.2" r="1.0" fill="#9c9ca4"/>
<circle cx="229.0" cy="313.8" r="1.0" fill="#9c9ca4"/>
<circle cx="230.1" cy="333.0" r="1.0" fill="#9c9ca4"/>
<circle cx="231.2" cy="330.8" r="1.0" fill="#fff" stroke="#b8b8c0" stroke-width="0.5"/>
<circle cx="232.2" cy="277.2" r="1.0" fill="#9c9ca4"/>
<circle cx="233.9" cy="326.6" r="1.0" fill="#9c9ca4"/>
<circle cx="234.8" cy="306.3" r="1.0" fill="#9c9ca4"/>
<circle cx="235.4" cy="333.0" r="1.0" fill="#9c9ca4"/>
<circle cx="236.7" cy="308.5" r="1.0" fill="#fff" stroke="#b8b8c0" stroke-width="0.5"/>
<circle cx="238.0" cy="291.4" r="1.0" fill="#fff" stroke="#b8b8c0" stroke-width="0.5"/>
<circle cx="238.6" cy="307.4" r="1.0" fill="#fff" stroke="#b8b8c0" stroke-width="0.5"/>
<circle cx="239.7" cy="306.3" r="1.0" fill="#fff" stroke="#b8b8c0" stroke-width="0.5"/>
<circle cx="240.7" cy="324.4" r="1.0" fill="#fff" stroke="#b8b8c0" stroke-width="0.5"/>
<circle cx="241.8" cy="321.2" r="1.0" fill="#fff" stroke="#b8b8c0" stroke-width="0.5"/>
<circle cx="242.9" cy="300.0" r="1.0" fill="#9c9ca4"/>
<circle cx="243.9" cy="296.8" r="1.0" fill="#fff" stroke="#b8b8c0" stroke-width="0.5"/>
<circle cx="245.0" cy="326.6" r="1.0" fill="#fff" stroke="#b8b8c0" stroke-width="0.5"/>
<circle cx="245.6" cy="261.7" r="1.0" fill="#9c9ca4"/>
<circle cx="247.1" cy="324.4" r="1.0" fill="#9c9ca4"/>
<circle cx="248.2" cy="325.5" r="1.0" fill="#fff" stroke="#b8b8c0" stroke-width="0.5"/>
<circle cx="249.3" cy="293.1" r="1.0" fill="#fff" stroke="#b8b8c0" stroke-width="0.5"/>
<circle cx="250.3" cy="306.3" r="1.0" fill="#fff" stroke="#b8b8c0" stroke-width="0.5"/>
<circle cx="251.4" cy="327.6" r="1.0" fill="#fff" stroke="#b8b8c0" stroke-width="0.5"/>
<circle cx="252.0" cy="321.2" r="1.0" fill="#9c9ca4"/>
<circle cx="253.5" cy="290.4" r="1.0" fill="#9c9ca4"/>
<circle cx="254.6" cy="289.3" r="1.0" fill="#9c9ca4"/>
<circle cx="255.6" cy="284.0" r="1.0" fill="#9c9ca4"/>
<circle cx="256.7" cy="296.8" r="1.0" fill="#9c9ca4"/>
<circle cx="257.8" cy="290.4" r="1.0" fill="#9c9ca4"/>
<circle cx="258.4" cy="241.6" r="1.0" fill="#9c9ca4"/>
<circle cx="259.5" cy="291.4" r="1.0" fill="#9c9ca4"/>
<circle cx="260.5" cy="301.0" r="1.0" fill="#fff" stroke="#b8b8c0" stroke-width="0.5"/>
<circle cx="261.4" cy="261.2" r="1.0" fill="#9c9ca4"/>
<circle cx="262.4" cy="256.3" r="1.0" fill="#9c9ca4"/>
<circle cx="263.1" cy="245.0" r="1.0" fill="#9c9ca4"/>
<circle cx="263.0" cy="255.9" r="1.0" fill="#9c9ca4"/>
<circle cx="264.1" cy="292.5" r="1.0" fill="#fff" stroke="#b8b8c0" stroke-width="0.5"/>
<circle cx="265.2" cy="279.7" r="1.0" fill="#9c9ca4"/>
<circle cx="266.3" cy="241.6" r="1.0" fill="#9c9ca4"/>
<circle cx="267.3" cy="302.1" r="1.0" fill="#9c9ca4"/>
<circle cx="268.8" cy="286.1" r="1.0" fill="#9c9ca4"/>
<circle cx="270.5" cy="302.1" r="1.0" fill="#fff" stroke="#b8b8c0" stroke-width="0.5"/>
<circle cx="271.1" cy="302.5" r="1.0" fill="#fff" stroke="#b8b8c0" stroke-width="0.5"/>
<circle cx="271.6" cy="286.1" r="1.0" fill="#9c9ca4"/>
<circle cx="272.1" cy="286.1" r="1.0" fill="#9c9ca4"/>
<circle cx="272.8" cy="280.8" r="1.0" fill="#9c9ca4"/>
<circle cx="273.8" cy="313.8" r="1.0" fill="#fff" stroke="#b8b8c0" stroke-width="0.5"/>
<circle cx="274.7" cy="312.7" r="1.0" fill="#fff" stroke="#b8b8c0" stroke-width="0.5"/>
<circle cx="276.0" cy="340.4" r="1.0" fill="#fff" stroke="#b8b8c0" stroke-width="0.5"/>
<circle cx="276.8" cy="338.7" r="1.0" fill="#9c9ca4"/>
<circle cx="277.9" cy="334.0" r="1.0" fill="#9c9ca4"/>
<circle cx="278.9" cy="337.8" r="1.0" fill="#9c9ca4"/>
<circle cx="280.0" cy="327.6" r="1.0" fill="#fff" stroke="#b8b8c0" stroke-width="0.5"/>
<circle cx="281.1" cy="347.2" r="1.0" fill="#9c9ca4"/>
<circle cx="282.1" cy="324.4" r="1.0" fill="#9c9ca4"/>
<circle cx="283.2" cy="339.3" r="1.0" fill="#9c9ca4"/>
<circle cx="284.3" cy="339.3" r="1.0" fill="#9c9ca4"/>
<circle cx="285.3" cy="333.0" r="1.0" fill="#fff" stroke="#b8b8c0" stroke-width="0.5"/>
<circle cx="286.2" cy="319.1" r="1.0" fill="#9c9ca4"/>
<circle cx="287.0" cy="327.2" r="1.0" fill="#9c9ca4"/>
<circle cx="287.9" cy="297.2" r="1.0" fill="#9c9ca4"/>
<circle cx="288.7" cy="308.0" r="1.0" fill="#fff" stroke="#b8b8c0" stroke-width="0.5"/>
<circle cx="289.6" cy="311.2" r="1.0" fill="#9c9ca4"/>
<circle cx="290.9" cy="293.1" r="1.0" fill="#fff" stroke="#b8b8c0" stroke-width="0.5"/>
<circle cx="291.7" cy="297.8" r="1.0" fill="#9c9ca4"/>
<circle cx="292.8" cy="308.5" r="1.0" fill="#9c9ca4"/>
<circle cx="293.8" cy="308.9" r="1.0" fill="#fff" stroke="#b8b8c0" stroke-width="0.5"/>
<circle cx="295.1" cy="296.8" r="1.0" fill="#9c9ca4"/>
<circle cx="296.0" cy="337.8" r="1.0" fill="#fff" stroke="#b8b8c0" stroke-width="0.5"/>
<circle cx="297.0" cy="319.5" r="1.0" fill="#9c9ca4"/>
<circle cx="297.9" cy="325.5" r="1.0" fill="#fff" stroke="#b8b8c0" stroke-width="0.5"/>
<circle cx="298.7" cy="298.3" r="1.0" fill="#9c9ca4"/>
<circle cx="299.6" cy="310.6" r="1.0" fill="#9c9ca4"/>
<circle cx="300.4" cy="326.6" r="1.0" fill="#9c9ca4"/>
<circle cx="301.3" cy="261.2" r="1.0" fill="#9c9ca4"/>
<circle cx="302.1" cy="284.0" r="1.0" fill="#9c9ca4"/>
<circle cx="303.0" cy="325.5" r="1.0" fill="#9c9ca4"/>
<circle cx="304.0" cy="342.5" r="1.0" fill="#9c9ca4"/>
<circle cx="304.9" cy="341.4" r="1.0" fill="#9c9ca4"/>
<circle cx="305.7" cy="333.6" r="1.0" fill="#9c9ca4"/>
<circle cx="306.6" cy="317.4" r="1.0" fill="#9c9ca4"/>
<circle cx="307.4" cy="293.1" r="1.0" fill="#9c9ca4"/>
<circle cx="308.3" cy="320.8" r="1.0" fill="#fff" stroke="#b8b8c0" stroke-width="0.5"/>
<circle cx="309.1" cy="290.4" r="1.0" fill="#9c9ca4"/>
<circle cx="310.0" cy="321.2" r="1.0" fill="#fff" stroke="#b8b8c0" stroke-width="0.5"/>
<circle cx="310.9" cy="305.3" r="1.0" fill="#9c9ca4"/>
<circle cx="311.7" cy="302.1" r="1.0" fill="#9c9ca4"/>
<circle cx="312.6" cy="296.8" r="1.0" fill="#9c9ca4"/>
<circle cx="313.6" cy="300.0" r="1.0" fill="#fff" stroke="#b8b8c0" stroke-width="0.5"/>
<circle cx="314.7" cy="286.1" r="1.0" fill="#9c9ca4"/>
<circle cx="315.5" cy="294.6" r="1.0" fill="#9c9ca4"/>
<circle cx="316.6" cy="267.0" r="1.0" fill="#9c9ca4"/>
<circle cx="317.4" cy="303.1" r="1.0" fill="#fff" stroke="#b8b8c0" stroke-width="0.5"/>
<circle cx="318.3" cy="337.2" r="1.0" fill="#9c9ca4"/>
<circle cx="319.1" cy="297.8" r="1.0" fill="#9c9ca4"/>
<circle cx="320.2" cy="317.0" r="1.0" fill="#9c9ca4"/>
<circle cx="321.1" cy="317.0" r="1.0" fill="#9c9ca4"/>
<circle cx="321.7" cy="273.4" r="1.0" fill="#9c9ca4"/>
<circle cx="322.8" cy="308.5" r="1.0" fill="#fff" stroke="#b8b8c0" stroke-width="0.5"/>
<circle cx="323.6" cy="313.8" r="1.0" fill="#9c9ca4"/>
<circle cx="324.5" cy="308.5" r="1.0" fill="#9c9ca4"/>
<circle cx="325.3" cy="330.2" r="1.0" fill="#9c9ca4"/>
<circle cx="326.0" cy="337.2" r="1.0" fill="#fff" stroke="#b8b8c0" stroke-width="0.5"/>
<circle cx="326.8" cy="311.7" r="1.0" fill="#fff" stroke="#b8b8c0" stroke-width="0.5"/>
<circle cx="327.7" cy="289.7" r="1.0" fill="#fff" stroke="#b8b8c0" stroke-width="0.5"/>
<circle cx="328.5" cy="325.9" r="1.0" fill="#9c9ca4"/>
<circle cx="329.4" cy="333.0" r="1.0" fill="#9c9ca4"/>
<circle cx="330.2" cy="297.8" r="1.0" fill="#9c9ca4"/>
<circle cx="331.1" cy="258.5" r="1.0" fill="#fff" stroke="#b8b8c0" stroke-width="0.5"/>
<circle cx="331.9" cy="296.8" r="1.0" fill="#fff" stroke="#b8b8c0" stroke-width="0.5"/>
<circle cx="332.8" cy="279.7" r="1.0" fill="#9c9ca4"/>
<circle cx="333.8" cy="244.6" r="1.0" fill="#9c9ca4"/>
<circle cx="334.7" cy="320.2" r="1.0" fill="#9c9ca4"/>
<circle cx="335.3" cy="270.2" r="1.0" fill="#9c9ca4"/>
<circle cx="336.2" cy="286.8" r="1.0" fill="#9c9ca4"/>
<circle cx="337.0" cy="303.1" r="1.0" fill="#9c9ca4"/>
<circle cx="338.1" cy="281.9" r="1.0" fill="#9c9ca4"/>
<circle cx="338.9" cy="302.1" r="1.0" fill="#9c9ca4"/>
<circle cx="339.8" cy="339.3" r="1.0" fill="#fff" stroke="#b8b8c0" stroke-width="0.5"/>
<circle cx="340.6" cy="326.6" r="1.0" fill="#9c9ca4"/>
<circle cx="341.5" cy="264.9" r="1.0" fill="#9c9ca4"/>
<circle cx="342.3" cy="302.1" r="1.0" fill="#9c9ca4"/>
<circle cx="343.2" cy="304.2" r="1.0" fill="#9c9ca4"/>
<circle cx="344.0" cy="297.8" r="1.0" fill="#9c9ca4"/>
<circle cx="344.9" cy="300.0" r="1.0" fill="#fff" stroke="#b8b8c0" stroke-width="0.5"/>
<circle cx="345.7" cy="304.2" r="1.0" fill="#9c9ca4"/>
<circle cx="346.6" cy="296.8" r="1.0" fill="#9c9ca4"/>
<circle cx="347.1" cy="296.1" r="1.0" fill="#9c9ca4"/>
<circle cx="348.2" cy="338.3" r="1.0" fill="#9c9ca4"/>
<circle cx="348.8" cy="286.1" r="1.0" fill="#9c9ca4"/>
<circle cx="349.7" cy="297.8" r="1.0" fill="#9c9ca4"/>
<circle cx="350.7" cy="301.0" r="1.0" fill="#9c9ca4"/>
<circle cx="351.8" cy="291.0" r="1.0" fill="#fff" stroke="#b8b8c0" stroke-width="0.5"/>
<circle cx="352.7" cy="306.3" r="1.0" fill="#9c9ca4"/>
<circle cx="353.5" cy="312.3" r="1.0" fill="#9c9ca4"/>
<circle cx="354.4" cy="321.7" r="1.0" fill="#fff" stroke="#b8b8c0" stroke-width="0.5"/>
<circle cx="355.2" cy="274.0" r="1.0" fill="#9c9ca4"/>
<circle cx="356.1" cy="310.2" r="1.0" fill="#9c9ca4"/>
<circle cx="357.1" cy="344.6" r="1.0" fill="#9c9ca4"/>
<circle cx="358.2" cy="326.6" r="1.0" fill="#9c9ca4"/>
<circle cx="359.3" cy="325.1" r="1.0" fill="#9c9ca4"/>
<circle cx="360.3" cy="330.8" r="1.0" fill="#9c9ca4"/>
<circle cx="361.4" cy="335.1" r="1.0" fill="#9c9ca4"/>
<circle cx="362.7" cy="281.9" r="1.0" fill="#9c9ca4"/>
<circle cx="363.7" cy="302.1" r="1.0" fill="#fff" stroke="#b8b8c0" stroke-width="0.5"/>
<circle cx="364.8" cy="304.2" r="1.0" fill="#9c9ca4"/>
<circle cx="365.4" cy="263.8" r="1.0" fill="#fff" stroke="#b8b8c0" stroke-width="0.5"/>
<circle cx="366.3" cy="301.7" r="1.0" fill="#9c9ca4"/>
<circle cx="366.9" cy="250.0" r="1.0" fill="#9c9ca4"/>
<circle cx="367.8" cy="291.4" r="1.0" fill="#fff" stroke="#b8b8c0" stroke-width="0.5"/>
<circle cx="368.8" cy="296.8" r="1.0" fill="#9c9ca4"/>
<circle cx="369.7" cy="315.9" r="1.0" fill="#fff" stroke="#b8b8c0" stroke-width="0.5"/>
<circle cx="370.5" cy="320.2" r="1.0" fill="#fff" stroke="#b8b8c0" stroke-width="0.5"/>
<circle cx="371.4" cy="279.1" r="1.0" fill="#9c9ca4"/>
<circle cx="372.2" cy="308.5" r="1.0" fill="#9c9ca4"/>
<circle cx="373.1" cy="300.0" r="1.0" fill="#9c9ca4"/>
<circle cx="373.9" cy="312.7" r="1.0" fill="#9c9ca4"/>
<circle cx="374.8" cy="346.8" r="1.0" fill="#fff" stroke="#b8b8c0" stroke-width="0.5"/>
<circle cx="375.2" cy="303.1" r="1.0" fill="#9c9ca4"/>
<circle cx="376.5" cy="346.3" r="1.0" fill="#9c9ca4"/>
<circle cx="378.0" cy="325.5" r="1.0" fill="#9c9ca4"/>
<circle cx="379.5" cy="303.8" r="1.0" fill="#9c9ca4"/>
<circle cx="380.1" cy="346.8" r="1.0" fill="#9c9ca4"/>
<circle cx="381.2" cy="322.3" r="1.0" fill="#fff" stroke="#b8b8c0" stroke-width="0.5"/>
<circle cx="382.2" cy="345.7" r="1.0" fill="#9c9ca4"/>
<circle cx="383.7" cy="337.2" r="1.0" fill="#9c9ca4"/>
<circle cx="384.8" cy="340.0" r="1.0" fill="#9c9ca4"/>
<circle cx="385.9" cy="342.5" r="1.0" fill="#fff" stroke="#b8b8c0" stroke-width="0.5"/>
<circle cx="387.1" cy="348.9" r="1.0" fill="#9c9ca4"/>
<circle cx="388.6" cy="347.8" r="1.0" fill="#9c9ca4"/>
<circle cx="390.1" cy="346.8" r="1.0" fill="#9c9ca4"/>
<circle cx="391.4" cy="348.9" r="1.0" fill="#9c9ca4"/>
<circle cx="392.9" cy="329.7" r="1.0" fill="#9c9ca4"/>
<circle cx="393.9" cy="330.8" r="1.0" fill="#9c9ca4"/>
<circle cx="395.0" cy="331.9" r="1.0" fill="#9c9ca4"/>
<circle cx="396.1" cy="343.6" r="1.0" fill="#9c9ca4"/>
<circle cx="397.1" cy="340.4" r="1.0" fill="#fff" stroke="#b8b8c0" stroke-width="0.5"/>
<circle cx="398.2" cy="346.8" r="1.0" fill="#9c9ca4"/>
<circle cx="399.3" cy="347.8" r="1.0" fill="#9c9ca4"/>
<circle cx="400.3" cy="320.2" r="1.0" fill="#9c9ca4"/>
<circle cx="401.0" cy="342.5" r="1.0" fill="#fff" stroke="#b8b8c0" stroke-width="0.5"/>
<circle cx="402.0" cy="346.8" r="1.0" fill="#fff" stroke="#b8b8c0" stroke-width="0.5"/>
<circle cx="402.9" cy="304.6" r="1.0" fill="#9c9ca4"/>
<circle cx="403.7" cy="306.8" r="1.0" fill="#fff" stroke="#b8b8c0" stroke-width="0.5"/>
<circle cx="405.4" cy="270.6" r="1.0" fill="#9c9ca4"/>
<circle cx="406.3" cy="338.3" r="1.0" fill="#9c9ca4"/>
<circle cx="407.1" cy="323.4" r="1.0" fill="#9c9ca4"/>
<circle cx="408.2" cy="342.5" r="1.0" fill="#9c9ca4"/>
<circle cx="409.0" cy="335.1" r="1.0" fill="#fff" stroke="#b8b8c0" stroke-width="0.5"/>
<circle cx="410.1" cy="342.5" r="1.0" fill="#9c9ca4"/>
<circle cx="411.2" cy="347.8" r="1.0" fill="#9c9ca4"/>
<circle cx="412.2" cy="346.8" r="1.0" fill="#9c9ca4"/>
<circle cx="413.5" cy="347.8" r="1.0" fill="#9c9ca4"/>
<circle cx="414.8" cy="340.0" r="1.0" fill="#fff" stroke="#b8b8c0" stroke-width="0.5"/>
<circle cx="416.1" cy="345.7" r="1.0" fill="#fff" stroke="#b8b8c0" stroke-width="0.5"/>
<circle cx="417.3" cy="342.5" r="1.0" fill="#fff" stroke="#b8b8c0" stroke-width="0.5"/>
<circle cx="418.4" cy="323.4" r="1.0" fill="#9c9ca4"/>
<circle cx="419.0" cy="333.0" r="1.0" fill="#9c9ca4"/>
<circle cx="419.9" cy="323.4" r="1.0" fill="#9c9ca4"/>
<line x1="232.90" y1="313.50" x2="232.90" y2="328.50" stroke="#d04a6a" stroke-width="0.8"/>
<circle cx="138.2" cy="346.9" r="1.3" fill="#b0123a"/>
<circle cx="144.2" cy="345.7" r="1.3" fill="#b0123a"/>
<circle cx="176.9" cy="347.2" r="1.3" fill="#b0123a"/>
<circle cx="181.8" cy="346.9" r="1.3" fill="#b0123a"/>
<circle cx="194.9" cy="348.8" r="1.3" fill="#b0123a"/>
<circle cx="232.9" cy="318.7" r="1.3" fill="#b0123a"/>
<line x1="45.30" y1="322.10" x2="438.00" y2="322.10" stroke="#222" stroke-width="1.4" stroke-dasharray="1.7 1.72"/>
<rect x="45.3" y="234.3" width="392.7" height="144.09999999999997" fill="none" stroke="#1a1a1a" stroke-width="1.4"/>
<line x1="41.80" y1="274.30" x2="45.30" y2="274.30" stroke="#111" stroke-width="1.1"/>
<text x="39.20" y="277.10" font-size="7.8" text-anchor="end" stroke="#000" stroke-width="0.1">2</text>
<line x1="41.80" y1="322.10" x2="45.30" y2="322.10" stroke="#111" stroke-width="1.1"/>
<text x="39.20" y="324.90" font-size="7.8" text-anchor="end" stroke="#000" stroke-width="0.1">0</text>
<line x1="41.80" y1="369.90" x2="45.30" y2="369.90" stroke="#111" stroke-width="1.1"/>
<text x="39.20" y="372.70" font-size="7.8" text-anchor="end" stroke="#000" stroke-width="0.1">-2</text>
<line x1="62.40" y1="378.40" x2="62.40" y2="381.80" stroke="#111" stroke-width="1.1"/>
<text x="62.40" y="391.30" font-size="7.6" text-anchor="middle" stroke="#000" stroke-width="0.1" textLength="3.6" lengthAdjust="spacingAndGlyphs">0</text>
<line x1="147.70" y1="378.40" x2="147.70" y2="381.80" stroke="#111" stroke-width="1.1"/>
<text x="147.70" y="391.30" font-size="7.6" text-anchor="middle" stroke="#000" stroke-width="0.1" textLength="10.6" lengthAdjust="spacingAndGlyphs">100</text>
<line x1="233.00" y1="378.40" x2="233.00" y2="381.80" stroke="#111" stroke-width="1.1"/>
<text x="233.00" y="391.30" font-size="7.6" text-anchor="middle" stroke="#000" stroke-width="0.1" textLength="10.6" lengthAdjust="spacingAndGlyphs">200</text>
<line x1="318.30" y1="378.40" x2="318.30" y2="381.80" stroke="#111" stroke-width="1.1"/>
<text x="318.30" y="391.30" font-size="7.6" text-anchor="middle" stroke="#000" stroke-width="0.1" textLength="10.6" lengthAdjust="spacingAndGlyphs">300</text>
<line x1="403.60" y1="378.40" x2="403.60" y2="381.80" stroke="#111" stroke-width="1.1"/>
<text x="403.60" y="391.30" font-size="7.6" text-anchor="middle" stroke="#000" stroke-width="0.1" textLength="10.6" lengthAdjust="spacingAndGlyphs">400</text>
<text x="209.20" y="404.10" font-size="9.2" stroke="#000" stroke-width="0.04" textLength="63.9" lengthAdjust="spacingAndGlyphs">Amino acid position</text>
<text x="0.00" y="0.00" font-size="9.0" text-anchor="middle" stroke="#000" stroke-width="0.04" textLength="100" lengthAdjust="spacingAndGlyphs" transform="translate(26.9,305.6) rotate(-90)">Normalised conservation score</text>
<rect x="132.1" y="353.1" width="18.9" height="4.6" fill="#24437f"/>
<rect x="156.3" y="353.1" width="18.5" height="4.6" fill="#24437f"/>
<rect x="180.2" y="353.1" width="19.4" height="4.6" fill="#24437f"/>
<rect x="373.0" y="353.1" width="19.0" height="4.6" fill="#24437f"/>
<rect x="396.9" y="353.1" width="20.2" height="4.6" fill="#24437f"/>
<text x="419.80" y="358.70" font-size="7.8" fill="#24437f" stroke="#24437f" stroke-width="0.1" textLength="12.6" lengthAdjust="spacingAndGlyphs">Znfs</text>
<text x="0.00" y="2.20" font-size="6.2" text-anchor="middle" fill="#c0274f" stroke="#c0274f" stroke-width="0.1" textLength="11.0" lengthAdjust="spacingAndGlyphs" transform="translate(133.2,364.3) rotate(-45)">Y89C</text>
<text x="0.00" y="2.20" font-size="6.2" text-anchor="middle" fill="#c0274f" stroke="#c0274f" stroke-width="0.1" textLength="14.0" lengthAdjust="spacingAndGlyphs" transform="translate(140.1,366.6) rotate(-45)">R96W</text>
<text x="0.00" y="2.20" font-size="6.2" text-anchor="middle" fill="#c0274f" stroke="#c0274f" stroke-width="0.1" textLength="15.5" lengthAdjust="spacingAndGlyphs" transform="translate(169.0,367.9) rotate(-45)">G134E</text>
<text x="0.00" y="2.20" font-size="6.2" text-anchor="middle" fill="#c0274f" stroke="#c0274f" stroke-width="0.1" textLength="15.5" lengthAdjust="spacingAndGlyphs" transform="translate(175.6,368.3) rotate(-45)">C140R</text>
<text x="0.00" y="2.20" font-size="6.2" text-anchor="middle" fill="#c0274f" stroke="#c0274f" stroke-width="0.1" textLength="15.5" lengthAdjust="spacingAndGlyphs" transform="translate(189.2,367.6) rotate(-45)">H155Y</text>
<text x="0.00" y="2.20" font-size="6.2" text-anchor="middle" fill="#c0274f" stroke="#c0274f" stroke-width="0.1" textLength="15.5" lengthAdjust="spacingAndGlyphs" transform="translate(226.6,368.1) rotate(-45)">S200G</text>
<text x="444.50" y="266.20" font-size="7.0" stroke="#000" stroke-width="0.1">Residue mutated in</text>
<text x="444.50" y="274.30" font-size="7.0" stroke="#000" stroke-width="0.1">cases known to have</text>
<text x="444.50" y="282.40" font-size="7.0" stroke="#000" stroke-width="0.1">thrombocytopenia</text>
<line x1="444.50" y1="293.40" x2="452.50" y2="293.40" stroke="#d0d0d0" stroke-width="0.9"/>
<circle cx="448.5" cy="293.4" r="1.0" fill="#999"/>
<text x="455.90" y="295.90" font-size="7.0" stroke="#000" stroke-width="0.1">No</text>
<line x1="444.50" y1="303.80" x2="452.50" y2="303.80" stroke="#d85a7a" stroke-width="0.9"/>
<circle cx="448.5" cy="303.8" r="1.3" fill="#b0123a"/>
<text x="455.90" y="306.30" font-size="7.0" stroke="#000" stroke-width="0.1">Yes</text>
<text x="444.50" y="321.00" font-size="7.0" stroke="#000" stroke-width="0.1">Missense variant</text>
<text x="444.50" y="329.80" font-size="7.0" stroke="#000" stroke-width="0.1">in GnomAD</text>
<circle cx="449.7" cy="338.1" r="1.1" fill="#111"/>
<text x="453.90" y="340.60" font-size="7.0" stroke="#000" stroke-width="0.1">No</text>
<circle cx="449.7" cy="348.5" r="1.1" fill="none" stroke="#777" stroke-width="0.6"/>
<text x="453.90" y="351.00" font-size="7.0" stroke="#000" stroke-width="0.1">Yes</text>
<text x="80.00" y="445.00" font-size="7.0" text-anchor="middle" font-weight="bold" fill="#000" textLength="36" lengthAdjust="spacingAndGlyphs" stroke="#000" stroke-width="0.15">Pedigree A</text>
<path d="M73.90,457.00 L87.20,457.00" fill="none" stroke="#222" stroke-width="0.9"/>
<path d="M79.90,457.00 L79.90,476.40" fill="none" stroke="#222" stroke-width="0.9"/>
<path d="M69.40,485.50 L69.40,476.40 L92.30,476.40 L92.30,485.50" fill="none" stroke="#222" stroke-width="0.9"/>
<rect x="65.25" y="452.80" width="8.4" height="8.4" fill="#fff" stroke="#222" stroke-width="0.9"/>
<circle cx="91.90" cy="457.00" r="4.7" fill="#fff" stroke="#222" stroke-width="0.9"/>
<rect x="65.20" y="485.50" width="8.4" height="8.4" fill="#111" stroke="#222" stroke-width="0.9"/>
<rect x="88.10" y="485.50" width="8.4" height="8.4" fill="#fff" stroke="#222" stroke-width="0.9"/>
<text x="69.45" y="468.40" font-size="5.6" text-anchor="middle" fill="#3a3a3a" stroke="#3a3a3a" stroke-width="0.08">I.1</text>
<text x="69.05" y="474.90" font-size="5.6" text-anchor="middle" fill="#3a3a3a" stroke="#3a3a3a" stroke-width="0.08">WT<tspan font-size="3.0" dy="-2.0" stroke-width="0">(S)</tspan></text>
<text x="91.90" y="468.40" font-size="5.6" text-anchor="middle" fill="#3a3a3a" stroke="#3a3a3a" stroke-width="0.08">1.2</text>
<text x="91.50" y="474.90" font-size="5.6" text-anchor="middle" fill="#3a3a3a" stroke="#3a3a3a" stroke-width="0.08">WT<tspan font-size="3.0" dy="-2.0" stroke-width="0">(S)</tspan></text>
<text x="69.40" y="501.10" font-size="5.6" text-anchor="middle" fill="#3a3a3a" stroke="#3a3a3a" stroke-width="0.08">II.1</text>
<text x="69.00" y="507.60" font-size="5.6" text-anchor="middle" fill="#3a3a3a" stroke="#3a3a3a" stroke-width="0.08">H155Y<tspan font-size="3.0" dy="-2.0" stroke-width="0">(S)</tspan></text>
<text x="92.30" y="501.10" font-size="5.6" text-anchor="middle" fill="#3a3a3a" stroke="#3a3a3a" stroke-width="0.08">II.2</text>
<text x="91.90" y="507.60" font-size="5.6" text-anchor="middle" fill="#3a3a3a" stroke="#3a3a3a" stroke-width="0.08">WT<tspan font-size="3.0" dy="-2.0" stroke-width="0">(S)</tspan></text>
<text x="173.30" y="445.00" font-size="7.0" text-anchor="middle" font-weight="bold" fill="#000" textLength="36" lengthAdjust="spacingAndGlyphs" stroke="#000" stroke-width="0.15">Pedigree B</text>
<path d="M178.70,457.00 L191.60,457.00" fill="none" stroke="#222" stroke-width="0.9"/>
<path d="M184.50,457.00 L184.50,476.30" fill="none" stroke="#222" stroke-width="0.9"/>
<path d="M161.30,476.30 L196.20,476.30 L196.20,484.70" fill="none" stroke="#222" stroke-width="0.9"/>
<path d="M153.60,485.60 L161.30,476.30 L170.00,485.60" fill="none" stroke="#222" stroke-width="0.9"/>
<path d="M156.50,482.50 L166.20,482.50" fill="none" stroke="#222" stroke-width="0.9"/>
<rect x="170.30" y="452.80" width="8.4" height="8.4" fill="#fff" stroke="#222" stroke-width="0.9"/>
<circle cx="196.30" cy="457.00" r="4.7" fill="#fff" stroke="#222" stroke-width="0.9"/>
<circle cx="150.20" cy="489.70" r="4.7" fill="#111" stroke="#222" stroke-width="0.9"/>
<circle cx="173.20" cy="489.70" r="4.7" fill="#111" stroke="#222" stroke-width="0.9"/>
<circle cx="196.20" cy="489.70" r="4.7" fill="#fff" stroke="#222" stroke-width="0.9"/>
<text x="174.50" y="468.40" font-size="5.6" text-anchor="middle" fill="#3a3a3a" stroke="#3a3a3a" stroke-width="0.08">I.1</text>
<text x="174.10" y="474.90" font-size="5.6" text-anchor="middle" fill="#3a3a3a" stroke="#3a3a3a" stroke-width="0.08">WT<tspan font-size="3.0" dy="-2.0" stroke-width="0">(S)</tspan></text>
<text x="196.30" y="468.40" font-size="5.6" text-anchor="middle" fill="#3a3a3a" stroke="#3a3a3a" stroke-width="0.08">1.2</text>
<text x="195.90" y="474.90" font-size="5.6" text-anchor="middle" fill="#3a3a3a" stroke="#3a3a3a" stroke-width="0.08">WT<tspan font-size="3.0" dy="-2.0" stroke-width="0">(S)</tspan></text>
<text x="145.80" y="501.00" font-size="5.6" text-anchor="middle" fill="#3a3a3a" stroke="#3a3a3a" stroke-width="0.08">II.1</text>
<text x="145.40" y="507.50" font-size="5.6" text-anchor="middle" fill="#3a3a3a" stroke="#3a3a3a" stroke-width="0.08">C140R<tspan font-size="3.0" dy="-2.0" stroke-width="0">(S)</tspan></text>
<text x="173.00" y="501.00" font-size="5.6" text-anchor="middle" fill="#3a3a3a" stroke="#3a3a3a" stroke-width="0.08">II.2</text>
<text x="172.60" y="507.50" font-size="5.6" text-anchor="middle" fill="#3a3a3a" stroke="#3a3a3a" stroke-width="0.08">C140R<tspan font-size="3.0" dy="-2.0" stroke-width="0">(S)</tspan></text>
<text x="196.20" y="500.80" font-size="5.6" text-anchor="middle" fill="#3a3a3a" stroke="#3a3a3a" stroke-width="0.08">II.3</text>
<text x="195.80" y="507.30" font-size="5.6" text-anchor="middle" fill="#3a3a3a" stroke="#3a3a3a" stroke-width="0.08">WT<tspan font-size="3.0" dy="-2.0" stroke-width="0">(S)</tspan></text>
<text x="80.00" y="530.00" font-size="7.0" text-anchor="middle" font-weight="bold" fill="#000" textLength="36" lengthAdjust="spacingAndGlyphs" stroke="#000" stroke-width="0.15">Pedigree C</text>
<path d="M46.80,542.90 L64.00,542.90" fill="none" stroke="#222" stroke-width="0.9"/>
<path d="M55.40,542.90 L55.40,558.80" fill="none" stroke="#222" stroke-width="0.9"/>
<path d="M25.40,566.60 L25.40,558.80 L76.20,558.80 L76.20,567.10" fill="none" stroke="#222" stroke-width="0.9"/>
<path d="M50.60,558.80 L50.60,566.60" fill="none" stroke="#222" stroke-width="0.9"/>
<path d="M80.40,571.30 L96.80,571.30" fill="none" stroke="#222" stroke-width="0.9"/>
<path d="M88.10,571.30 L88.10,593.80" fill="none" stroke="#222" stroke-width="0.9"/>
<path d="M50.20,602.50 L50.20,593.80 L127.60,593.80 L127.60,602.50" fill="none" stroke="#222" stroke-width="0.9"/>
<path d="M75.50,593.80 L75.50,602.50" fill="none" stroke="#222" stroke-width="0.9"/>
<path d="M101.50,593.80 L101.50,601.80" fill="none" stroke="#222" stroke-width="0.9"/>
<path d="M79.70,606.70 L96.80,606.70" fill="none" stroke="#222" stroke-width="0.9"/>
<path d="M88.20,606.70 L88.20,626.70" fill="none" stroke="#222" stroke-width="0.9"/>
<rect x="38.40" y="538.60" width="8.4" height="8.4" fill="#b6b6b6" stroke="#222" stroke-width="0.9"/>
<rect x="39.40" y="539.60" width="6.4" height="6.4" fill="none" stroke="#8c8c8c" stroke-width="0.7"/>
<circle cx="68.70" cy="542.90" r="4.7" fill="#b0b0b0" stroke="#222" stroke-width="0.9"/>
<circle cx="25.40" cy="571.30" r="4.7" fill="#b0b0b0" stroke="#222" stroke-width="0.9"/>
<circle cx="50.60" cy="571.30" r="4.7" fill="#b0b0b0" stroke="#222" stroke-width="0.9"/>
<rect x="72.00" y="567.10" width="8.4" height="8.4" fill="#111" stroke="#222" stroke-width="0.9"/>
<circle cx="101.50" cy="571.30" r="4.7" fill="#fff" stroke="#222" stroke-width="0.9"/>
<rect x="46.00" y="602.50" width="8.4" height="8.4" fill="#111" stroke="#222" stroke-width="0.9"/>
<rect x="71.30" y="602.50" width="8.4" height="8.4" fill="#b6b6b6" stroke="#222" stroke-width="0.9"/>
<rect x="72.30" y="603.50" width="6.4" height="6.4" fill="none" stroke="#8c8c8c" stroke-width="0.7"/>
<circle cx="101.50" cy="606.50" r="4.7" fill="#111" stroke="#222" stroke-width="0.9"/>
<rect x="123.40" y="602.50" width="8.4" height="8.4" fill="#fff" stroke="#222" stroke-width="0.9"/>
<rect x="84.00" y="626.70" width="8.4" height="8.4" fill="#111" stroke="#222" stroke-width="0.9"/>
<text x="42.60" y="554.20" font-size="5.6" text-anchor="middle" fill="#3a3a3a" stroke="#3a3a3a" stroke-width="0.08">I.1</text>
<text x="68.70" y="554.30" font-size="5.6" text-anchor="middle" fill="#3a3a3a" stroke="#3a3a3a" stroke-width="0.08">1.2</text>
<text x="25.40" y="582.70" font-size="5.6" text-anchor="middle" fill="#3a3a3a" stroke="#3a3a3a" stroke-width="0.08">II.1</text>
<text x="50.60" y="582.70" font-size="5.6" text-anchor="middle" fill="#3a3a3a" stroke="#3a3a3a" stroke-width="0.08">II.2</text>
<text x="76.20" y="582.70" font-size="5.6" text-anchor="middle" fill="#3a3a3a" stroke="#3a3a3a" stroke-width="0.08">II.3</text>
<text x="72.70" y="589.20" font-size="5.6" text-anchor="middle" fill="#3a3a3a" stroke="#3a3a3a" stroke-width="0.08">G134E<tspan font-size="3.0" dy="-2.0" stroke-width="0">(S)</tspan></text>
<text x="101.50" y="582.70" font-size="5.6" text-anchor="middle" fill="#3a3a3a" stroke="#3a3a3a" stroke-width="0.08">II.4</text>
<text x="101.10" y="589.20" font-size="5.6" text-anchor="middle" fill="#3a3a3a" stroke="#3a3a3a" stroke-width="0.08">WT<tspan font-size="3.0" dy="-2.0" stroke-width="0">(S)</tspan></text>
<text x="50.20" y="618.10" font-size="5.6" text-anchor="middle" fill="#3a3a3a" stroke="#3a3a3a" stroke-width="0.08">III.1</text>
<text x="49.00" y="624.60" font-size="5.6" text-anchor="middle" fill="#3a3a3a" stroke="#3a3a3a" stroke-width="0.08">G134E<tspan font-size="3.0" dy="-2.0" stroke-width="0">(S)</tspan></text>
<text x="75.50" y="618.10" font-size="5.6" text-anchor="middle" fill="#3a3a3a" stroke="#3a3a3a" stroke-width="0.08">III.2</text>
<text x="101.50" y="618.10" font-size="5.6" text-anchor="middle" fill="#3a3a3a" stroke="#3a3a3a" stroke-width="0.08">III.3</text>
<text x="101.10" y="624.60" font-size="5.6" text-anchor="middle" fill="#3a3a3a" stroke="#3a3a3a" stroke-width="0.08">G134E<tspan font-size="3.0" dy="-2.0" stroke-width="0">(S)</tspan></text>
<text x="127.60" y="618.10" font-size="5.6" text-anchor="middle" fill="#3a3a3a" stroke="#3a3a3a" stroke-width="0.08">III.4</text>
<text x="128.90" y="624.60" font-size="5.6" text-anchor="middle" fill="#3a3a3a" stroke="#3a3a3a" stroke-width="0.08">G134E<tspan font-size="3.0" dy="-2.0" stroke-width="0">(S)</tspan></text>
<text x="88.20" y="642.30" font-size="5.6" text-anchor="middle" fill="#3a3a3a" stroke="#3a3a3a" stroke-width="0.08">IV.1</text>
<text x="89.00" y="648.80" font-size="5.6" text-anchor="middle" fill="#3a3a3a" stroke="#3a3a3a" stroke-width="0.08">G134E<tspan font-size="3.0" dy="-2.0" stroke-width="0">(S)</tspan></text>
<text x="173.90" y="530.00" font-size="7.0" text-anchor="middle" font-weight="bold" fill="#000" textLength="36" lengthAdjust="spacingAndGlyphs" stroke="#000" stroke-width="0.15">Pedigree D</text>
<path d="M165.90,542.90 L181.90,542.90" fill="none" stroke="#222" stroke-width="0.9"/>
<path d="M172.70,542.90 L172.70,558.80" fill="none" stroke="#222" stroke-width="0.9"/>
<path d="M162.10,567.00 L162.10,558.80 L184.60,558.80 L184.60,567.00" fill="none" stroke="#222" stroke-width="0.9"/>
<path d="M142.30,571.70 L157.50,571.70" fill="none" stroke="#222" stroke-width="0.9"/>
<path d="M149.80,571.70 L149.80,587.80" fill="none" stroke="#222" stroke-width="0.9"/>
<path d="M189.20,571.70 L205.40,571.70" fill="none" stroke="#222" stroke-width="0.9"/>
<path d="M197.70,571.70 L197.70,587.30" fill="none" stroke="#222" stroke-width="0.9"/>
<rect x="157.50" y="538.40" width="8.4" height="8.4" fill="#fff" stroke="#222" stroke-width="0.9"/>
<circle cx="186.50" cy="542.90" r="4.7" fill="#111" stroke="#222" stroke-width="0.9"/>
<rect x="133.90" y="567.50" width="8.4" height="8.4" fill="#b6b6b6" stroke="#222" stroke-width="0.9"/>
<rect x="134.90" y="568.50" width="6.4" height="6.4" fill="none" stroke="#8c8c8c" stroke-width="0.7"/>
<circle cx="162.10" cy="571.70" r="4.7" fill="#111" stroke="#222" stroke-width="0.9"/>
<circle cx="184.60" cy="571.70" r="4.7" fill="#111" stroke="#222" stroke-width="0.9"/>
<rect x="205.40" y="567.50" width="8.4" height="8.4" fill="#b6b6b6" stroke="#222" stroke-width="0.9"/>
<rect x="206.40" y="568.50" width="6.4" height="6.4" fill="none" stroke="#8c8c8c" stroke-width="0.7"/>
<rect x="145.60" y="587.80" width="8.4" height="8.4" fill="#fff" stroke="#222" stroke-width="0.9"/>
<circle cx="197.70" cy="592.00" r="4.7" fill="#111" stroke="#222" stroke-width="0.9"/>
<text x="161.70" y="554.00" font-size="5.6" text-anchor="middle" fill="#3a3a3a" stroke="#3a3a3a" stroke-width="0.08">I.1</text>
<text x="186.50" y="554.00" font-size="5.6" text-anchor="middle" fill="#3a3a3a" stroke="#3a3a3a" stroke-width="0.08">1.2</text>
<text x="138.10" y="583.10" font-size="5.6" text-anchor="middle" fill="#3a3a3a" stroke="#3a3a3a" stroke-width="0.08">II.1</text>
<text x="162.10" y="583.10" font-size="5.6" text-anchor="middle" fill="#3a3a3a" stroke="#3a3a3a" stroke-width="0.08">II.2</text>
<text x="184.60" y="583.10" font-size="5.6" text-anchor="middle" fill="#3a3a3a" stroke="#3a3a3a" stroke-width="0.08">II.3</text>
<text x="182.70" y="589.60" font-size="5.6" text-anchor="middle" fill="#3a3a3a" stroke="#3a3a3a" stroke-width="0.08">Y89C<tspan font-size="3.0" dy="-2.0" stroke-width="0">(S)</tspan></text>
<text x="209.60" y="583.10" font-size="5.6" text-anchor="middle" fill="#3a3a3a" stroke="#3a3a3a" stroke-width="0.08">II.4</text>
<text x="149.80" y="603.40" font-size="5.6" text-anchor="middle" fill="#3a3a3a" stroke="#3a3a3a" stroke-width="0.08">III.1</text>
<text x="197.70" y="603.40" font-size="5.6" text-anchor="middle" fill="#3a3a3a" stroke="#3a3a3a" stroke-width="0.08">III.2</text>
<text x="196.70" y="609.90" font-size="5.6" text-anchor="middle" fill="#3a3a3a" stroke="#3a3a3a" stroke-width="0.08">Y89C<tspan font-size="3.0" dy="-2.0" stroke-width="0">(S)</tspan></text>
<text x="342.90" y="445.00" font-size="7.0" text-anchor="middle" font-weight="bold" fill="#000" textLength="36" lengthAdjust="spacingAndGlyphs" stroke="#000" stroke-width="0.15">Pedigree E</text>
<path d="M303.80,457.20 L320.00,457.20" fill="none" stroke="#222" stroke-width="0.9"/>
<path d="M312.00,457.20 L312.00,473.20" fill="none" stroke="#222" stroke-width="0.9"/>
<path d="M224.20,482.00 L224.20,473.20 L402.30,473.20 L402.30,481.00" fill="none" stroke="#222" stroke-width="0.9"/>
<path d="M252.10,473.20 L252.10,482.00" fill="none" stroke="#222" stroke-width="0.9"/>
<path d="M277.10,473.20 L277.10,482.00" fill="none" stroke="#222" stroke-width="0.9"/>
<path d="M339.40,473.20 L339.40,482.00" fill="none" stroke="#222" stroke-width="0.9"/>
<path d="M281.30,486.20 L291.50,486.20" fill="none" stroke="#222" stroke-width="0.9"/>
<path d="M286.50,486.20 L286.50,507.70" fill="none" stroke="#222" stroke-width="0.9"/>
<path d="M276.90,516.50 L276.90,507.70 L295.80,507.70 L295.80,517.00" fill="none" stroke="#222" stroke-width="0.9"/>
<path d="M318.50,485.80 L335.20,485.80" fill="none" stroke="#222" stroke-width="0.9"/>
<path d="M325.60,485.80 L325.60,516.50" fill="none" stroke="#222" stroke-width="0.9"/>
<path d="M343.60,485.80 L359.70,485.80" fill="none" stroke="#222" stroke-width="0.9"/>
<path d="M352.30,485.80 L352.30,508.30" fill="none" stroke="#222" stroke-width="0.9"/>
<path d="M342.70,517.00 L342.70,508.30 L371.20,508.30 L371.20,517.00" fill="none" stroke="#222" stroke-width="0.9"/>
<path d="M356.90,508.30 L356.90,516.50" fill="none" stroke="#222" stroke-width="0.9"/>
<path d="M407.00,485.70 L416.30,485.70" fill="none" stroke="#222" stroke-width="0.9"/>
<path d="M411.60,485.70 L411.60,507.80" fill="none" stroke="#222" stroke-width="0.9"/>
<path d="M390.30,516.60 L390.30,507.80 L444.20,507.80 L444.20,517.10" fill="none" stroke="#222" stroke-width="0.9"/>
<path d="M427.40,507.80 L427.40,517.10" fill="none" stroke="#222" stroke-width="0.9"/>
<path d="M395.00,521.30 L405.00,521.30" fill="none" stroke="#222" stroke-width="0.9"/>
<path d="M399.40,521.30 L399.40,543.40" fill="none" stroke="#222" stroke-width="0.9"/>
<path d="M385.90,551.70 L385.90,543.40 L461.00,543.40 L461.00,552.20" fill="none" stroke="#222" stroke-width="0.9"/>
<path d="M404.70,543.40 L404.70,552.00" fill="none" stroke="#222" stroke-width="0.9"/>
<path d="M423.50,543.40 L423.50,552.00" fill="none" stroke="#222" stroke-width="0.9"/>
<path d="M442.30,543.40 L442.30,552.00" fill="none" stroke="#222" stroke-width="0.9"/>
<rect x="295.40" y="453.30" width="8.4" height="8.4" fill="#b6b6b6" stroke="#222" stroke-width="0.9"/>
<rect x="296.40" y="454.30" width="6.4" height="6.4" fill="none" stroke="#8c8c8c" stroke-width="0.7"/>
<circle cx="324.60" cy="457.00" r="4.7" fill="#111" stroke="#222" stroke-width="0.9"/>
<rect x="220.00" y="482.00" width="8.4" height="8.4" fill="#fff" stroke="#222" stroke-width="0.9"/>
<rect x="247.90" y="482.00" width="8.4" height="8.4" fill="#fff" stroke="#222" stroke-width="0.9"/>
<rect x="272.90" y="482.00" width="8.4" height="8.4" fill="#111" stroke="#222" stroke-width="0.9"/>
<circle cx="296.20" cy="486.20" r="4.7" fill="#fff" stroke="#222" stroke-width="0.9"/>
<circle cx="313.80" cy="485.80" r="4.7" fill="#b0b0b0" stroke="#222" stroke-width="0.9"/>
<rect x="335.20" y="481.60" width="8.4" height="8.4" fill="#111" stroke="#222" stroke-width="0.9"/>
<circle cx="364.40" cy="485.80" r="4.7" fill="#b0b0b0" stroke="#222" stroke-width="0.9"/>
<circle cx="402.30" cy="485.70" r="4.7" fill="#111" stroke="#222" stroke-width="0.9"/>
<rect x="416.30" y="481.50" width="8.4" height="8.4" fill="#b6b6b6" stroke="#222" stroke-width="0.9"/>
<rect x="417.30" y="482.50" width="6.4" height="6.4" fill="none" stroke="#8c8c8c" stroke-width="0.7"/>
<circle cx="276.90" cy="521.20" r="4.7" fill="#111" stroke="#222" stroke-width="0.9"/>
<rect x="291.60" y="517.00" width="8.4" height="8.4" fill="#111" stroke="#222" stroke-width="0.9"/>
<circle cx="325.60" cy="521.20" r="4.7" fill="#111" stroke="#222" stroke-width="0.9"/>
<rect x="338.50" y="517.00" width="8.4" height="8.4" fill="#111" stroke="#222" stroke-width="0.9"/>
<circle cx="356.90" cy="521.20" r="4.7" fill="#111" stroke="#222" stroke-width="0.9"/>
<rect x="367.00" y="517.00" width="8.4" height="8.4" fill="#111" stroke="#222" stroke-width="0.9"/>
<circle cx="390.30" cy="521.30" r="4.7" fill="#111" stroke="#222" stroke-width="0.9"/>
<rect x="405.00" y="517.10" width="8.4" height="8.4" fill="#b6b6b6" stroke="#222" stroke-width="0.9"/>
<rect x="406.00" y="518.10" width="6.4" height="6.4" fill="none" stroke="#8c8c8c" stroke-width="0.7"/>
<rect x="423.20" y="517.10" width="8.4" height="8.4" fill="#fff" stroke="#222" stroke-width="0.9"/>
<rect x="440.00" y="517.10" width="8.4" height="8.4" fill="#b6b6b6" stroke="#222" stroke-width="0.9"/>
<rect x="441.00" y="518.10" width="6.4" height="6.4" fill="none" stroke="#8c8c8c" stroke-width="0.7"/>
<circle cx="385.90" cy="556.40" r="4.7" fill="#111" stroke="#222" stroke-width="0.9"/>
<circle cx="404.70" cy="556.40" r="4.7" fill="#b0b0b0" stroke="#222" stroke-width="0.9"/>
<rect x="419.30" y="552.20" width="8.4" height="8.4" fill="#b6b6b6" stroke="#222" stroke-width="0.9"/>
<rect x="420.30" y="553.20" width="6.4" height="6.4" fill="none" stroke="#8c8c8c" stroke-width="0.7"/>
<circle cx="442.30" cy="556.40" r="4.7" fill="#b0b0b0" stroke="#222" stroke-width="0.9"/>
<rect x="456.80" y="552.20" width="8.4" height="8.4" fill="#b6b6b6" stroke="#222" stroke-width="0.9"/>
<rect x="457.80" y="553.20" width="6.4" height="6.4" fill="none" stroke="#8c8c8c" stroke-width="0.7"/>
<text x="299.60" y="468.60" font-size="5.6" text-anchor="middle" fill="#3a3a3a" stroke="#3a3a3a" stroke-width="0.08">I.1</text>
<text x="324.60" y="468.60" font-size="5.6" text-anchor="middle" fill="#3a3a3a" stroke="#3a3a3a" stroke-width="0.08">I.2</text>
<text x="224.20" y="497.40" font-size="5.6" text-anchor="middle" fill="#3a3a3a" stroke="#3a3a3a" stroke-width="0.08">II.1</text>
<text x="252.10" y="497.40" font-size="5.6" text-anchor="middle" fill="#3a3a3a" stroke="#3a3a3a" stroke-width="0.08">II.2</text>
<text x="277.10" y="497.40" font-size="5.6" text-anchor="middle" fill="#3a3a3a" stroke="#3a3a3a" stroke-width="0.08">II.3</text>
<text x="273.90" y="503.90" font-size="5.6" text-anchor="middle" fill="#3a3a3a" stroke="#3a3a3a" stroke-width="0.08">R96W<tspan font-size="3.0" dy="-2.0" stroke-width="0">(S)</tspan></text>
<text x="296.20" y="497.40" font-size="5.6" text-anchor="middle" fill="#3a3a3a" stroke="#3a3a3a" stroke-width="0.08">II.4</text>
<text x="296.80" y="503.90" font-size="5.6" text-anchor="middle" fill="#3a3a3a" stroke="#3a3a3a" stroke-width="0.08">WT<tspan font-size="3.0" dy="-2.0" stroke-width="0">(S)</tspan></text>
<text x="313.80" y="497.40" font-size="5.6" text-anchor="middle" fill="#3a3a3a" stroke="#3a3a3a" stroke-width="0.08">II.5</text>
<text x="339.40" y="497.40" font-size="5.6" text-anchor="middle" fill="#3a3a3a" stroke="#3a3a3a" stroke-width="0.08">II.6</text>
<text x="339.00" y="503.90" font-size="5.6" text-anchor="middle" fill="#3a3a3a" stroke="#3a3a3a" stroke-width="0.08">R96W<tspan font-size="3.0" dy="-2.0" stroke-width="0">(S)</tspan></text>
<text x="364.40" y="497.40" font-size="5.6" text-anchor="middle" fill="#3a3a3a" stroke="#3a3a3a" stroke-width="0.08">II.7</text>
<text x="402.30" y="497.40" font-size="5.6" text-anchor="middle" fill="#3a3a3a" stroke="#3a3a3a" stroke-width="0.08">II.8</text>
<text x="397.90" y="503.90" font-size="5.6" text-anchor="middle" fill="#3a3a3a" stroke="#3a3a3a" stroke-width="0.08">R96W<tspan font-size="3.0" dy="-2.0" stroke-width="0">(S)</tspan></text>
<text x="420.50" y="497.40" font-size="5.6" text-anchor="middle" fill="#3a3a3a" stroke="#3a3a3a" stroke-width="0.08">II.9</text>
<text x="276.90" y="532.60" font-size="5.6" text-anchor="middle" fill="#3a3a3a" stroke="#3a3a3a" stroke-width="0.08">III.1</text>
<text x="271.70" y="539.10" font-size="5.6" text-anchor="middle" fill="#3a3a3a" stroke="#3a3a3a" stroke-width="0.08">R96W<tspan font-size="3.0" dy="-2.0" stroke-width="0">(S)</tspan></text>
<text x="295.80" y="532.60" font-size="5.6" text-anchor="middle" fill="#3a3a3a" stroke="#3a3a3a" stroke-width="0.08">III.2</text>
<text x="296.00" y="539.10" font-size="5.6" text-anchor="middle" fill="#3a3a3a" stroke="#3a3a3a" stroke-width="0.08">R96W<tspan font-size="3.0" dy="-2.0" stroke-width="0">(S)</tspan></text>
<text x="325.60" y="532.60" font-size="5.6" text-anchor="middle" fill="#3a3a3a" stroke="#3a3a3a" stroke-width="0.08">III.3</text>
<text x="342.70" y="532.60" font-size="5.6" text-anchor="middle" fill="#3a3a3a" stroke="#3a3a3a" stroke-width="0.08">III.4</text>
<text x="356.90" y="532.60" font-size="5.6" text-anchor="middle" fill="#3a3a3a" stroke="#3a3a3a" stroke-width="0.08">III.5</text>
<text x="371.20" y="532.60" font-size="5.6" text-anchor="middle" fill="#3a3a3a" stroke="#3a3a3a" stroke-width="0.08">III.6</text>
<text x="390.30" y="532.60" font-size="5.6" text-anchor="middle" fill="#3a3a3a" stroke="#3a3a3a" stroke-width="0.08">III.7</text>
<text x="388.90" y="539.10" font-size="5.6" text-anchor="middle" fill="#3a3a3a" stroke="#3a3a3a" stroke-width="0.08">R96W<tspan font-size="3.0" dy="-2.0" stroke-width="0">(S)</tspan></text>
<text x="409.20" y="532.60" font-size="5.6" text-anchor="middle" fill="#3a3a3a" stroke="#3a3a3a" stroke-width="0.08">III.8</text>
<text x="427.40" y="532.60" font-size="5.6" text-anchor="middle" fill="#3a3a3a" stroke="#3a3a3a" stroke-width="0.08">III.9</text>
<text x="444.20" y="532.60" font-size="5.6" text-anchor="middle" fill="#3a3a3a" stroke="#3a3a3a" stroke-width="0.08">III.10</text>
<text x="385.90" y="567.80" font-size="5.6" text-anchor="middle" fill="#3a3a3a" stroke="#3a3a3a" stroke-width="0.08">IV.1</text>
<text x="404.70" y="567.80" font-size="5.6" text-anchor="middle" fill="#3a3a3a" stroke="#3a3a3a" stroke-width="0.08">IV.2</text>
<text x="423.50" y="567.80" font-size="5.6" text-anchor="middle" fill="#3a3a3a" stroke="#3a3a3a" stroke-width="0.08">IV.3</text>
<text x="442.30" y="567.80" font-size="5.6" text-anchor="middle" fill="#3a3a3a" stroke="#3a3a3a" stroke-width="0.08">IV.4</text>
<text x="461.00" y="567.80" font-size="5.6" text-anchor="middle" fill="#3a3a3a" stroke="#3a3a3a" stroke-width="0.08">IV.5</text>
<rect x="0.5" y="0.5" width="519" height="657" fill="none" stroke="#000" stroke-width="1.2"/>
</svg>
</body></html>
